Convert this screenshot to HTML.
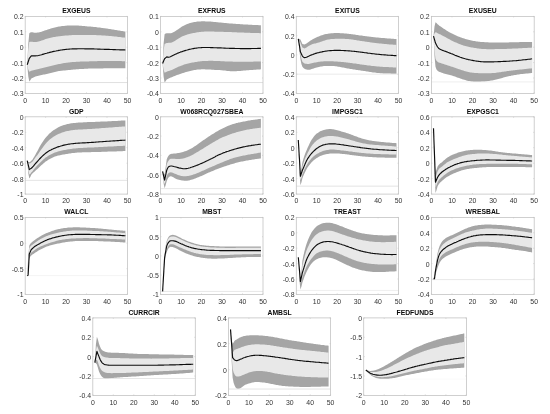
<!DOCTYPE html>
<html lang="en"><head><meta charset="utf-8"><title>Impulse responses</title>
<style>html,body{margin:0;padding:0;background:#fff}body{width:550px;height:414px;overflow:hidden}</style></head>
<body>
<svg width="550" height="414" viewBox="0 0 550 414" style="display:block">
<defs><filter id="soft" x="-5%" y="-5%" width="110%" height="110%"><feGaussianBlur stdDeviation="0.38"/></filter></defs>
<style>text{font-family:"Liberation Sans",Arial,Helvetica,sans-serif}.t{font-weight:bold;font-size:6.8px;fill:#0a0a0a;text-anchor:middle}.y{font-size:6.9px;fill:#333;text-anchor:end}.x{font-size:6.9px;fill:#333;text-anchor:middle}.k{stroke:#c4c4c4;stroke-width:.6}.bx{fill:none;stroke:#c4c4c4;stroke-width:.8}.m{fill:none;stroke:#111;stroke-width:1.15;stroke-linejoin:round}.d{fill:#a5a5a5}.l{fill:#e8e8e8}</style>
<rect width="550" height="414" fill="#fff"/>
<g>
<g filter="url(#soft)">
<polygon class="d" points="27.2,64.8 28.3,43.4 29.3,33.2 30.3,32.4 31.3,32.2 32.4,32.3 33.4,32.5 34.4,32.7 35.4,32.8 36.4,32.8 37.5,32.6 38.5,32.5 39.5,32.3 40.5,32.0 41.6,31.7 42.6,31.3 43.6,31.0 44.6,30.6 45.6,30.2 46.7,29.9 47.7,29.5 48.7,29.2 49.7,28.9 50.8,28.6 51.8,28.3 52.8,28.0 53.8,27.7 54.9,27.5 55.9,27.3 56.9,27.0 57.9,26.8 58.9,26.6 60.0,26.5 61.0,26.3 62.0,26.1 63.0,26.0 64.1,25.9 65.1,25.8 66.1,25.7 67.1,25.6 68.1,25.5 69.2,25.5 70.2,25.4 71.2,25.4 72.2,25.4 73.3,25.4 74.3,25.4 75.3,25.4 76.3,25.5 77.3,25.5 78.4,25.6 79.4,25.7 80.4,25.7 81.4,25.8 82.5,25.9 83.5,26.0 84.5,26.1 85.5,26.2 86.5,26.3 87.6,26.4 88.6,26.5 89.6,26.5 90.6,26.6 91.7,26.7 92.7,26.8 93.7,26.9 94.7,27.0 95.8,27.1 96.8,27.3 97.8,27.4 98.8,27.5 99.8,27.6 100.9,27.8 101.9,27.9 102.9,28.0 103.9,28.2 105.0,28.3 106.0,28.5 107.0,28.6 108.0,28.8 109.0,29.0 110.1,29.1 111.1,29.3 112.1,29.4 113.1,29.6 114.2,29.8 115.2,29.9 116.2,30.1 117.2,30.3 118.2,30.4 119.3,30.6 120.3,30.8 121.3,30.9 122.3,31.1 123.4,31.3 124.4,31.4 125.4,31.6 125.4,68.3 124.4,68.3 123.4,68.3 122.3,68.3 121.3,68.3 120.3,68.3 119.3,68.3 118.2,68.3 117.2,68.3 116.2,68.3 115.2,68.3 114.2,68.3 113.1,68.3 112.1,68.3 111.1,68.3 110.1,68.3 109.0,68.3 108.0,68.3 107.0,68.3 106.0,68.3 105.0,68.3 103.9,68.3 102.9,68.4 101.9,68.4 100.9,68.4 99.8,68.4 98.8,68.4 97.8,68.4 96.8,68.4 95.8,68.5 94.7,68.5 93.7,68.5 92.7,68.5 91.7,68.5 90.6,68.6 89.6,68.6 88.6,68.6 87.6,68.7 86.5,68.7 85.5,68.8 84.5,68.8 83.5,68.9 82.5,68.9 81.4,69.0 80.4,69.0 79.4,69.1 78.4,69.2 77.3,69.2 76.3,69.3 75.3,69.4 74.3,69.5 73.3,69.6 72.2,69.7 71.2,69.8 70.2,69.9 69.2,70.0 68.1,70.1 67.1,70.2 66.1,70.3 65.1,70.4 64.1,70.5 63.0,70.6 62.0,70.7 61.0,70.8 60.0,71.0 58.9,71.1 57.9,71.3 56.9,71.5 55.9,71.7 54.9,71.9 53.8,72.2 52.8,72.4 51.8,72.7 50.8,73.0 49.7,73.2 48.7,73.5 47.7,73.8 46.7,74.0 45.6,74.2 44.6,74.5 43.6,74.6 42.6,74.8 41.6,75.0 40.5,75.2 39.5,75.4 38.5,75.7 37.5,76.0 36.4,76.3 35.4,76.6 34.4,77.0 33.4,77.4 32.4,77.9 31.3,78.6 30.3,80.3 29.3,81.6 28.3,76.5 27.2,64.8"/>
<polygon class="l" points="27.2,64.8 28.3,49.3 29.3,42.1 30.3,41.8 31.3,41.7 32.4,41.7 33.4,41.9 34.4,42.0 35.4,42.1 36.4,42.0 37.5,41.8 38.5,41.6 39.5,41.3 40.5,41.0 41.6,40.6 42.6,40.2 43.6,39.9 44.6,39.5 45.6,39.1 46.7,38.8 47.7,38.5 48.7,38.2 49.7,37.9 50.8,37.7 51.8,37.5 52.8,37.3 53.8,37.1 54.9,36.9 55.9,36.7 56.9,36.6 57.9,36.4 58.9,36.3 60.0,36.2 61.0,36.1 62.0,35.9 63.0,35.8 64.1,35.7 65.1,35.6 66.1,35.6 67.1,35.5 68.1,35.4 69.2,35.3 70.2,35.2 71.2,35.2 72.2,35.1 73.3,35.1 74.3,35.0 75.3,35.0 76.3,35.0 77.3,34.9 78.4,34.9 79.4,34.9 80.4,34.9 81.4,34.9 82.5,34.9 83.5,34.9 84.5,34.9 85.5,34.9 86.5,35.0 87.6,35.0 88.6,35.0 89.6,35.0 90.6,35.0 91.7,35.0 92.7,35.0 93.7,35.1 94.7,35.1 95.8,35.1 96.8,35.2 97.8,35.2 98.8,35.2 99.8,35.3 100.9,35.3 101.9,35.4 102.9,35.5 103.9,35.5 105.0,35.6 106.0,35.7 107.0,35.7 108.0,35.8 109.0,35.9 110.1,36.0 111.1,36.1 112.1,36.2 113.1,36.3 114.2,36.4 115.2,36.5 116.2,36.6 117.2,36.8 118.2,36.9 119.3,37.0 120.3,37.1 121.3,37.2 122.3,37.4 123.4,37.5 124.4,37.6 125.4,37.7 125.4,61.2 124.4,61.2 123.4,61.2 122.3,61.2 121.3,61.1 120.3,61.1 119.3,61.1 118.2,61.1 117.2,61.1 116.2,61.1 115.2,61.1 114.2,61.0 113.1,61.0 112.1,61.0 111.1,61.0 110.1,61.0 109.0,61.0 108.0,61.0 107.0,61.0 106.0,61.0 105.0,61.0 103.9,61.0 102.9,61.1 101.9,61.1 100.9,61.1 99.8,61.1 98.8,61.1 97.8,61.1 96.8,61.2 95.8,61.2 94.7,61.2 93.7,61.2 92.7,61.2 91.7,61.3 90.6,61.3 89.6,61.3 88.6,61.4 87.6,61.4 86.5,61.4 85.5,61.4 84.5,61.5 83.5,61.5 82.5,61.5 81.4,61.6 80.4,61.6 79.4,61.7 78.4,61.7 77.3,61.8 76.3,61.8 75.3,61.9 74.3,61.9 73.3,62.0 72.2,62.1 71.2,62.2 70.2,62.3 69.2,62.4 68.1,62.5 67.1,62.7 66.1,62.8 65.1,62.9 64.1,63.1 63.0,63.3 62.0,63.5 61.0,63.7 60.0,63.9 58.9,64.1 57.9,64.3 56.9,64.5 55.9,64.8 54.9,65.0 53.8,65.3 52.8,65.5 51.8,65.8 50.8,66.0 49.7,66.3 48.7,66.6 47.7,66.8 46.7,67.1 45.6,67.3 44.6,67.6 43.6,67.8 42.6,68.1 41.6,68.3 40.5,68.5 39.5,68.8 38.5,69.0 37.5,69.2 36.4,69.5 35.4,69.7 34.4,69.9 33.4,70.2 32.4,70.4 31.3,70.7 30.3,71.3 29.3,71.7 28.3,69.6 27.2,64.8"/>
</g>
<line x1="25.20" y1="82.54" x2="127.45" y2="82.54" stroke="#d2d2d2" stroke-width="0.7"/>
<rect class="bx" x="25.20" y="16.40" width="102.25" height="77.00"/>
<g filter="url(#soft)"><polyline class="m" points="27.2,64.8 28.3,61.5 29.3,58.3 30.3,57.1 31.3,55.9 32.4,55.9 33.4,55.9 34.4,55.9 35.4,55.9 36.4,55.8 37.5,55.7 38.5,55.5 39.5,55.2 40.5,55.0 41.6,54.7 42.6,54.4 43.6,54.1 44.6,53.8 45.6,53.5 46.7,53.2 47.7,52.9 48.7,52.7 49.7,52.4 50.8,52.1 51.8,51.9 52.8,51.6 53.8,51.4 54.9,51.2 55.9,51.0 56.9,50.7 57.9,50.6 58.9,50.4 60.0,50.2 61.0,50.0 62.0,49.9 63.0,49.7 64.1,49.6 65.1,49.5 66.1,49.4 67.1,49.3 68.1,49.2 69.2,49.1 70.2,49.0 71.2,49.0 72.2,48.9 73.3,48.9 74.3,48.8 75.3,48.8 76.3,48.8 77.3,48.8 78.4,48.7 79.4,48.7 80.4,48.7 81.4,48.7 82.5,48.7 83.5,48.7 84.5,48.8 85.5,48.8 86.5,48.8 87.6,48.8 88.6,48.8 89.6,48.8 90.6,48.9 91.7,48.9 92.7,48.9 93.7,48.9 94.7,49.0 95.8,49.0 96.8,49.0 97.8,49.1 98.8,49.1 99.8,49.1 100.9,49.2 101.9,49.2 102.9,49.2 103.9,49.3 105.0,49.3 106.0,49.3 107.0,49.4 108.0,49.4 109.0,49.4 110.1,49.5 111.1,49.5 112.1,49.5 113.1,49.6 114.2,49.6 115.2,49.6 116.2,49.7 117.2,49.7 118.2,49.7 119.3,49.8 120.3,49.8 121.3,49.8 122.3,49.9 123.4,49.9 124.4,49.9 125.4,50.0"/></g>
<text class="t" x="76.3" y="13.4">EXGEUS</text>
<text class="y" x="23.5" y="19.3">0.2</text>
<path class="k" d="M25.2 16.4h1M127.5 16.4h-1"/>
<text class="y" x="23.5" y="34.8">0.1</text>
<path class="k" d="M25.2 31.8h1M127.5 31.8h-1"/>
<text class="y" x="23.5" y="50.2">0</text>
<path class="k" d="M25.2 47.2h1M127.5 47.2h-1"/>
<text class="y" x="23.5" y="65.5">-0.1</text>
<path class="k" d="M25.2 62.6h1M127.5 62.6h-1"/>
<text class="y" x="23.5" y="81.0">-0.2</text>
<path class="k" d="M25.2 78.0h1M127.5 78.0h-1"/>
<text class="y" x="23.5" y="96.4">-0.3</text>
<path class="k" d="M25.2 93.4h1M127.5 93.4h-1"/>
<text class="x" x="25.2" y="102.5">0</text>
<path class="k" d="M25.2 93.4v-1M25.2 16.4v1"/>
<text class="x" x="45.6" y="102.5">10</text>
<path class="k" d="M45.6 93.4v-1M45.6 16.4v1"/>
<text class="x" x="66.1" y="102.5">20</text>
<path class="k" d="M66.1 93.4v-1M66.1 16.4v1"/>
<text class="x" x="86.5" y="102.5">30</text>
<path class="k" d="M86.5 93.4v-1M86.5 16.4v1"/>
<text class="x" x="107.0" y="102.5">40</text>
<path class="k" d="M107.0 93.4v-1M107.0 16.4v1"/>
<text class="x" x="127.5" y="102.5">50</text>
<path class="k" d="M127.5 93.4v-1M127.5 16.4v1"/>
</g>
<g>
<g filter="url(#soft)">
<polygon class="d" points="162.6,63.4 163.6,43.6 164.6,34.2 165.6,33.4 166.7,33.2 167.7,33.2 168.7,33.2 169.7,33.2 170.8,33.2 171.8,33.0 172.8,32.6 173.8,32.1 174.8,31.5 175.9,30.8 176.9,30.1 177.9,29.4 178.9,28.7 180.0,27.9 181.0,27.3 182.0,26.6 183.1,26.0 184.1,25.5 185.1,25.0 186.1,24.5 187.2,24.1 188.2,23.7 189.2,23.3 190.2,23.0 191.2,22.7 192.3,22.5 193.3,22.2 194.3,22.0 195.3,21.9 196.4,21.7 197.4,21.6 198.4,21.5 199.4,21.4 200.5,21.4 201.5,21.3 202.5,21.3 203.6,21.3 204.6,21.3 205.6,21.4 206.6,21.4 207.7,21.4 208.7,21.5 209.7,21.6 210.7,21.6 211.8,21.7 212.8,21.8 213.8,21.9 214.8,22.0 215.8,22.1 216.9,22.2 217.9,22.3 218.9,22.4 219.9,22.5 221.0,22.6 222.0,22.7 223.0,22.8 224.1,22.9 225.1,23.0 226.1,23.1 227.1,23.2 228.2,23.3 229.2,23.4 230.2,23.4 231.2,23.5 232.2,23.6 233.3,23.7 234.3,23.8 235.3,23.8 236.3,23.9 237.4,24.0 238.4,24.0 239.4,24.1 240.4,24.2 241.5,24.2 242.5,24.3 243.5,24.4 244.6,24.4 245.6,24.5 246.6,24.5 247.6,24.6 248.7,24.7 249.7,24.7 250.7,24.8 251.7,24.8 252.8,24.9 253.8,24.9 254.8,25.0 255.8,25.0 256.9,25.1 257.9,25.1 258.9,25.2 259.9,25.2 260.9,25.3 260.9,69.3 259.9,69.4 258.9,69.4 257.9,69.5 256.9,69.6 255.8,69.7 254.8,69.7 253.8,69.8 252.8,69.9 251.7,69.9 250.7,70.0 249.7,70.1 248.7,70.2 247.6,70.3 246.6,70.3 245.6,70.4 244.6,70.5 243.5,70.6 242.5,70.7 241.5,70.8 240.4,70.9 239.4,71.0 238.4,71.1 237.4,71.1 236.3,71.2 235.3,71.3 234.3,71.3 233.3,71.3 232.2,71.3 231.2,71.2 230.2,71.2 229.2,71.1 228.2,71.0 227.1,70.9 226.1,70.8 225.1,70.6 224.1,70.5 223.0,70.4 222.0,70.3 221.0,70.2 219.9,70.1 218.9,70.1 217.9,70.0 216.9,70.0 215.8,69.9 214.8,69.9 213.8,69.8 212.8,69.8 211.8,69.7 210.7,69.6 209.7,69.6 208.7,69.5 207.7,69.5 206.6,69.4 205.6,69.4 204.6,69.3 203.6,69.3 202.5,69.3 201.5,69.3 200.5,69.4 199.4,69.4 198.4,69.5 197.4,69.6 196.4,69.8 195.3,69.9 194.3,70.1 193.3,70.3 192.3,70.5 191.2,70.7 190.2,70.9 189.2,71.2 188.2,71.5 187.2,71.7 186.1,72.0 185.1,72.3 184.1,72.7 183.1,73.0 182.0,73.3 181.0,73.7 180.0,74.0 178.9,74.4 177.9,74.7 176.9,75.1 175.9,75.5 174.8,75.9 173.8,76.3 172.8,76.7 171.8,77.2 170.8,77.6 169.7,78.0 168.7,78.4 167.7,78.9 166.7,79.6 165.6,81.3 164.6,82.5 163.6,76.7 162.6,63.4"/>
<polygon class="l" points="162.6,63.4 163.6,50.4 164.6,44.0 165.6,43.4 166.7,43.1 167.7,42.9 168.7,42.8 169.7,42.8 170.8,42.7 171.8,42.4 172.8,42.0 173.8,41.5 174.8,40.9 175.9,40.3 176.9,39.6 177.9,39.0 178.9,38.3 180.0,37.7 181.0,37.1 182.0,36.6 183.1,36.1 184.1,35.7 185.1,35.3 186.1,35.0 187.2,34.6 188.2,34.3 189.2,34.1 190.2,33.8 191.2,33.6 192.3,33.3 193.3,33.1 194.3,32.9 195.3,32.7 196.4,32.5 197.4,32.3 198.4,32.2 199.4,32.0 200.5,31.9 201.5,31.8 202.5,31.7 203.6,31.7 204.6,31.6 205.6,31.6 206.6,31.6 207.7,31.6 208.7,31.6 209.7,31.6 210.7,31.6 211.8,31.6 212.8,31.6 213.8,31.6 214.8,31.7 215.8,31.7 216.9,31.7 217.9,31.7 218.9,31.7 219.9,31.7 221.0,31.8 222.0,31.8 223.0,31.8 224.1,31.9 225.1,31.9 226.1,31.9 227.1,32.0 228.2,32.0 229.2,32.0 230.2,32.1 231.2,32.1 232.2,32.2 233.3,32.2 234.3,32.2 235.3,32.3 236.3,32.3 237.4,32.4 238.4,32.4 239.4,32.5 240.4,32.5 241.5,32.5 242.5,32.6 243.5,32.6 244.6,32.7 245.6,32.7 246.6,32.7 247.6,32.8 248.7,32.8 249.7,32.8 250.7,32.9 251.7,32.9 252.8,32.9 253.8,33.0 254.8,33.0 255.8,33.0 256.9,33.1 257.9,33.1 258.9,33.1 259.9,33.2 260.9,33.2 260.9,61.4 259.9,61.4 258.9,61.5 257.9,61.5 256.9,61.5 255.8,61.6 254.8,61.6 253.8,61.6 252.8,61.7 251.7,61.7 250.7,61.7 249.7,61.7 248.7,61.8 247.6,61.8 246.6,61.8 245.6,61.8 244.6,61.8 243.5,61.8 242.5,61.8 241.5,61.8 240.4,61.8 239.4,61.8 238.4,61.8 237.4,61.8 236.3,61.7 235.3,61.7 234.3,61.7 233.3,61.7 232.2,61.6 231.2,61.6 230.2,61.6 229.2,61.5 228.2,61.5 227.1,61.5 226.1,61.4 225.1,61.4 224.1,61.3 223.0,61.3 222.0,61.2 221.0,61.2 219.9,61.1 218.9,61.1 217.9,61.0 216.9,61.0 215.8,60.9 214.8,60.9 213.8,60.9 212.8,60.8 211.8,60.8 210.7,60.8 209.7,60.8 208.7,60.8 207.7,60.9 206.6,60.9 205.6,60.9 204.6,61.0 203.6,61.0 202.5,61.1 201.5,61.2 200.5,61.3 199.4,61.4 198.4,61.6 197.4,61.7 196.4,61.9 195.3,62.0 194.3,62.2 193.3,62.4 192.3,62.6 191.2,62.8 190.2,63.0 189.2,63.2 188.2,63.5 187.2,63.8 186.1,64.0 185.1,64.3 184.1,64.6 183.1,65.0 182.0,65.4 181.0,65.8 180.0,66.2 178.9,66.6 177.9,67.1 176.9,67.6 175.9,68.1 174.8,68.5 173.8,69.0 172.8,69.5 171.8,69.9 170.8,70.3 169.7,70.7 168.7,71.0 167.7,71.3 166.7,71.7 165.6,72.3 164.6,72.7 163.6,69.8 162.6,63.4"/>
</g>
<line x1="160.50" y1="82.54" x2="263.00" y2="82.54" stroke="#d2d2d2" stroke-width="0.7"/>
<rect class="bx" x="160.50" y="16.40" width="102.50" height="77.00"/>
<g filter="url(#soft)"><polyline class="m" points="162.6,63.4 163.6,61.1 164.6,58.8 165.6,57.9 166.7,56.9 167.7,57.1 168.7,57.3 169.7,57.0 170.8,56.5 171.8,56.0 172.8,55.5 173.8,55.0 174.8,54.5 175.9,54.0 176.9,53.6 177.9,53.1 178.9,52.7 180.0,52.3 181.0,51.9 182.0,51.6 183.1,51.2 184.1,50.9 185.1,50.6 186.1,50.3 187.2,50.0 188.2,49.7 189.2,49.4 190.2,49.2 191.2,49.0 192.3,48.8 193.3,48.6 194.3,48.4 195.3,48.2 196.4,48.1 197.4,48.0 198.4,47.8 199.4,47.7 200.5,47.7 201.5,47.6 202.5,47.5 203.6,47.5 204.6,47.5 205.6,47.5 206.6,47.5 207.7,47.5 208.7,47.5 209.7,47.5 210.7,47.6 211.8,47.6 212.8,47.6 213.8,47.7 214.8,47.7 215.8,47.7 216.9,47.8 217.9,47.8 218.9,47.9 219.9,47.9 221.0,47.9 222.0,48.0 223.0,48.0 224.1,48.1 225.1,48.1 226.1,48.2 227.1,48.2 228.2,48.2 229.2,48.3 230.2,48.3 231.2,48.3 232.2,48.4 233.3,48.4 234.3,48.4 235.3,48.5 236.3,48.5 237.4,48.5 238.4,48.5 239.4,48.5 240.4,48.6 241.5,48.6 242.5,48.6 243.5,48.6 244.6,48.6 245.6,48.6 246.6,48.6 247.6,48.6 248.7,48.6 249.7,48.6 250.7,48.6 251.7,48.5 252.8,48.5 253.8,48.5 254.8,48.5 255.8,48.5 256.9,48.5 257.9,48.4 258.9,48.4 259.9,48.4 260.9,48.4"/></g>
<text class="t" x="211.8" y="13.4">EXFRUS</text>
<text class="y" x="158.8" y="19.3">0.1</text>
<path class="k" d="M160.5 16.4h1M263.0 16.4h-1"/>
<text class="y" x="158.8" y="34.8">0</text>
<path class="k" d="M160.5 31.8h1M263.0 31.8h-1"/>
<text class="y" x="158.8" y="50.2">-0.1</text>
<path class="k" d="M160.5 47.2h1M263.0 47.2h-1"/>
<text class="y" x="158.8" y="65.5">-0.2</text>
<path class="k" d="M160.5 62.6h1M263.0 62.6h-1"/>
<text class="y" x="158.8" y="81.0">-0.3</text>
<path class="k" d="M160.5 78.0h1M263.0 78.0h-1"/>
<text class="y" x="158.8" y="96.4">-0.4</text>
<path class="k" d="M160.5 93.4h1M263.0 93.4h-1"/>
<text class="x" x="160.5" y="102.5">0</text>
<path class="k" d="M160.5 93.4v-1M160.5 16.4v1"/>
<text class="x" x="181.0" y="102.5">10</text>
<path class="k" d="M181.0 93.4v-1M181.0 16.4v1"/>
<text class="x" x="201.5" y="102.5">20</text>
<path class="k" d="M201.5 93.4v-1M201.5 16.4v1"/>
<text class="x" x="222.0" y="102.5">30</text>
<path class="k" d="M222.0 93.4v-1M222.0 16.4v1"/>
<text class="x" x="242.5" y="102.5">40</text>
<path class="k" d="M242.5 93.4v-1M242.5 16.4v1"/>
<text class="x" x="263.0" y="102.5">50</text>
<path class="k" d="M263.0 93.4v-1M263.0 16.4v1"/>
</g>
<g>
<g filter="url(#soft)">
<polygon class="d" points="298.3,38.8 299.4,39.0 300.4,39.6 301.4,41.8 302.4,43.9 303.5,44.3 304.5,44.5 305.5,44.1 306.5,43.5 307.5,42.8 308.6,42.0 309.6,41.3 310.6,40.6 311.6,39.9 312.7,39.3 313.7,38.7 314.7,38.2 315.7,37.7 316.7,37.2 317.8,36.8 318.8,36.4 319.8,36.0 320.8,35.6 321.9,35.2 322.9,34.9 323.9,34.6 324.9,34.3 325.9,34.1 327.0,33.9 328.0,33.7 329.0,33.5 330.0,33.4 331.0,33.3 332.1,33.2 333.1,33.2 334.1,33.1 335.1,33.1 336.2,33.1 337.2,33.1 338.2,33.1 339.2,33.1 340.2,33.2 341.3,33.2 342.3,33.3 343.3,33.3 344.3,33.4 345.4,33.5 346.4,33.6 347.4,33.7 348.4,33.8 349.4,33.9 350.5,34.0 351.5,34.2 352.5,34.3 353.5,34.5 354.6,34.6 355.6,34.8 356.6,34.9 357.6,35.1 358.6,35.2 359.7,35.4 360.7,35.5 361.7,35.6 362.7,35.8 363.8,35.9 364.8,36.1 365.8,36.2 366.8,36.3 367.8,36.5 368.9,36.6 369.9,36.7 370.9,36.8 371.9,37.0 372.9,37.1 374.0,37.2 375.0,37.3 376.0,37.4 377.0,37.5 378.1,37.6 379.1,37.7 380.1,37.8 381.1,37.9 382.1,38.0 383.2,38.1 384.2,38.1 385.2,38.2 386.2,38.3 387.3,38.4 388.3,38.4 389.3,38.5 390.3,38.6 391.3,38.7 392.4,38.7 393.4,38.8 394.4,38.9 395.4,38.9 396.5,39.0 396.5,73.8 395.4,73.7 394.4,73.7 393.4,73.7 392.4,73.7 391.3,73.7 390.3,73.6 389.3,73.6 388.3,73.6 387.3,73.6 386.2,73.5 385.2,73.5 384.2,73.4 383.2,73.4 382.1,73.3 381.1,73.2 380.1,73.2 379.1,73.1 378.1,73.0 377.0,72.9 376.0,72.8 375.0,72.6 374.0,72.5 372.9,72.4 371.9,72.2 370.9,72.1 369.9,71.9 368.9,71.8 367.8,71.6 366.8,71.5 365.8,71.3 364.8,71.1 363.8,71.0 362.7,70.8 361.7,70.7 360.7,70.5 359.7,70.3 358.6,70.2 357.6,70.0 356.6,69.9 355.6,69.7 354.6,69.6 353.5,69.4 352.5,69.3 351.5,69.1 350.5,69.0 349.4,68.8 348.4,68.6 347.4,68.5 346.4,68.3 345.4,68.1 344.3,67.8 343.3,67.6 342.3,67.4 341.3,67.2 340.2,67.0 339.2,66.8 338.2,66.7 337.2,66.5 336.2,66.3 335.1,66.2 334.1,66.1 333.1,66.0 332.1,66.0 331.0,65.9 330.0,65.9 329.0,65.9 328.0,65.9 327.0,65.9 325.9,65.9 324.9,66.0 323.9,66.1 322.9,66.2 321.9,66.4 320.8,66.5 319.8,66.7 318.8,66.9 317.8,67.2 316.7,67.5 315.7,67.8 314.7,68.1 313.7,68.5 312.7,68.8 311.6,69.1 310.6,69.4 309.6,69.7 308.6,69.8 307.5,69.8 306.5,69.6 305.5,69.2 304.5,68.8 303.5,67.9 302.4,66.7 301.4,63.9 300.4,59.0 299.4,50.8 298.3,38.8"/>
<polygon class="l" points="298.3,38.8 299.4,40.5 300.4,42.5 301.4,45.3 302.4,47.4 303.5,48.1 304.5,48.4 305.5,48.1 306.5,47.4 307.5,46.8 308.6,46.1 309.6,45.4 310.6,44.9 311.6,44.5 312.7,44.1 313.7,43.8 314.7,43.6 315.7,43.4 316.7,43.1 317.8,42.8 318.8,42.5 319.8,42.2 320.8,41.8 321.9,41.4 322.9,41.1 323.9,40.7 324.9,40.4 325.9,40.0 327.0,39.8 328.0,39.5 329.0,39.4 330.0,39.2 331.0,39.1 332.1,39.0 333.1,38.9 334.1,38.9 335.1,38.8 336.2,38.8 337.2,38.8 338.2,38.8 339.2,38.8 340.2,38.8 341.3,38.8 342.3,38.8 343.3,38.8 344.3,38.8 345.4,38.9 346.4,38.9 347.4,39.0 348.4,39.1 349.4,39.2 350.5,39.3 351.5,39.4 352.5,39.6 353.5,39.7 354.6,39.9 355.6,40.0 356.6,40.2 357.6,40.4 358.6,40.5 359.7,40.7 360.7,40.9 361.7,41.0 362.7,41.2 363.8,41.3 364.8,41.5 365.8,41.7 366.8,41.8 367.8,42.0 368.9,42.1 369.9,42.3 370.9,42.4 371.9,42.5 372.9,42.7 374.0,42.8 375.0,42.9 376.0,43.1 377.0,43.2 378.1,43.3 379.1,43.4 380.1,43.5 381.1,43.6 382.1,43.7 383.2,43.8 384.2,43.9 385.2,44.0 386.2,44.1 387.3,44.2 388.3,44.3 389.3,44.4 390.3,44.4 391.3,44.5 392.4,44.6 393.4,44.7 394.4,44.7 395.4,44.8 396.5,44.9 396.5,67.5 395.4,67.4 394.4,67.4 393.4,67.4 392.4,67.3 391.3,67.3 390.3,67.2 389.3,67.2 388.3,67.1 387.3,67.1 386.2,67.0 385.2,67.0 384.2,66.9 383.2,66.9 382.1,66.8 381.1,66.7 380.1,66.7 379.1,66.6 378.1,66.5 377.0,66.4 376.0,66.3 375.0,66.2 374.0,66.1 372.9,66.0 371.9,65.9 370.9,65.7 369.9,65.6 368.9,65.5 367.8,65.4 366.8,65.2 365.8,65.1 364.8,64.9 363.8,64.8 362.7,64.7 361.7,64.5 360.7,64.4 359.7,64.2 358.6,64.1 357.6,63.9 356.6,63.8 355.6,63.6 354.6,63.5 353.5,63.4 352.5,63.2 351.5,63.1 350.5,62.9 349.4,62.8 348.4,62.7 347.4,62.6 346.4,62.4 345.4,62.3 344.3,62.2 343.3,62.1 342.3,62.0 341.3,61.9 340.2,61.8 339.2,61.7 338.2,61.7 337.2,61.6 336.2,61.5 335.1,61.4 334.1,61.4 333.1,61.3 332.1,61.3 331.0,61.2 330.0,61.2 329.0,61.2 328.0,61.2 327.0,61.2 325.9,61.2 324.9,61.2 323.9,61.3 322.9,61.4 321.9,61.5 320.8,61.6 319.8,61.7 318.8,61.8 317.8,62.0 316.7,62.2 315.7,62.4 314.7,62.6 313.7,62.8 312.7,63.0 311.6,63.3 310.6,63.5 309.6,63.8 308.6,63.9 307.5,63.9 306.5,63.8 305.5,63.7 304.5,63.5 303.5,62.8 302.4,61.8 301.4,58.8 300.4,53.7 299.4,47.2 298.3,38.8"/>
</g>
<line x1="296.30" y1="74.15" x2="398.50" y2="74.15" stroke="#e0e0e0" stroke-width="0.7"/>
<rect class="bx" x="296.30" y="16.40" width="102.20" height="77.00"/>
<g filter="url(#soft)"><polyline class="m" points="298.3,38.8 299.4,45.3 300.4,51.8 301.4,53.9 302.4,56.1 303.5,57.2 304.5,57.6 305.5,57.5 306.5,57.3 307.5,56.8 308.6,56.3 309.6,55.8 310.6,55.3 311.6,54.9 312.7,54.5 313.7,54.1 314.7,53.7 315.7,53.4 316.7,53.1 317.8,52.8 318.8,52.6 319.8,52.3 320.8,52.1 321.9,51.9 322.9,51.6 323.9,51.5 324.9,51.3 325.9,51.1 327.0,51.0 328.0,50.8 329.0,50.7 330.0,50.6 331.0,50.6 332.1,50.5 333.1,50.5 334.1,50.4 335.1,50.4 336.2,50.4 337.2,50.4 338.2,50.4 339.2,50.4 340.2,50.4 341.3,50.5 342.3,50.5 343.3,50.5 344.3,50.6 345.4,50.6 346.4,50.7 347.4,50.8 348.4,50.9 349.4,50.9 350.5,51.0 351.5,51.1 352.5,51.2 353.5,51.3 354.6,51.4 355.6,51.5 356.6,51.6 357.6,51.8 358.6,51.9 359.7,52.0 360.7,52.1 361.7,52.3 362.7,52.4 363.8,52.5 364.8,52.7 365.8,52.8 366.8,52.9 367.8,53.1 368.9,53.2 369.9,53.3 370.9,53.5 371.9,53.6 372.9,53.7 374.0,53.8 375.0,54.0 376.0,54.1 377.0,54.2 378.1,54.3 379.1,54.4 380.1,54.5 381.1,54.6 382.1,54.7 383.2,54.8 384.2,54.9 385.2,54.9 386.2,55.0 387.3,55.1 388.3,55.2 389.3,55.2 390.3,55.3 391.3,55.4 392.4,55.4 393.4,55.5 394.4,55.6 395.4,55.6 396.5,55.7"/></g>
<text class="t" x="347.4" y="13.4">EXITUS</text>
<text class="y" x="294.6" y="19.3">0.4</text>
<path class="k" d="M296.3 16.4h1M398.5 16.4h-1"/>
<text class="y" x="294.6" y="38.6">0.2</text>
<path class="k" d="M296.3 35.6h1M398.5 35.6h-1"/>
<text class="y" x="294.6" y="57.9">0</text>
<path class="k" d="M296.3 54.9h1M398.5 54.9h-1"/>
<text class="y" x="294.6" y="77.1">-0.2</text>
<path class="k" d="M296.3 74.2h1M398.5 74.2h-1"/>
<text class="y" x="294.6" y="96.4">-0.4</text>
<path class="k" d="M296.3 93.4h1M398.5 93.4h-1"/>
<text class="x" x="296.3" y="102.5">0</text>
<path class="k" d="M296.3 93.4v-1M296.3 16.4v1"/>
<text class="x" x="316.7" y="102.5">10</text>
<path class="k" d="M316.7 93.4v-1M316.7 16.4v1"/>
<text class="x" x="337.2" y="102.5">20</text>
<path class="k" d="M337.2 93.4v-1M337.2 16.4v1"/>
<text class="x" x="357.6" y="102.5">30</text>
<path class="k" d="M357.6 93.4v-1M357.6 16.4v1"/>
<text class="x" x="378.1" y="102.5">40</text>
<path class="k" d="M378.1 93.4v-1M378.1 16.4v1"/>
<text class="x" x="398.5" y="102.5">50</text>
<path class="k" d="M398.5 93.4v-1M398.5 16.4v1"/>
</g>
<g>
<g filter="url(#soft)">
<polygon class="d" points="433.5,36.1 434.5,26.5 435.5,22.3 436.5,23.1 437.6,24.3 438.6,25.1 439.6,25.9 440.7,26.6 441.7,27.3 442.7,28.0 443.7,28.7 444.8,29.3 445.8,30.0 446.8,30.7 447.8,31.3 448.9,31.9 449.9,32.5 450.9,33.0 452.0,33.6 453.0,34.1 454.0,34.6 455.0,35.1 456.1,35.5 457.1,36.0 458.1,36.4 459.2,36.8 460.2,37.2 461.2,37.6 462.2,37.9 463.3,38.3 464.3,38.6 465.3,38.9 466.4,39.2 467.4,39.5 468.4,39.8 469.4,40.0 470.5,40.2 471.5,40.5 472.5,40.7 473.5,40.9 474.6,41.1 475.6,41.2 476.6,41.4 477.7,41.5 478.7,41.7 479.7,41.8 480.7,41.9 481.8,42.0 482.8,42.1 483.8,42.1 484.9,42.2 485.9,42.3 486.9,42.3 487.9,42.3 489.0,42.4 490.0,42.4 491.0,42.4 492.1,42.4 493.1,42.5 494.1,42.5 495.1,42.5 496.2,42.5 497.2,42.5 498.2,42.5 499.2,42.5 500.3,42.5 501.3,42.5 502.3,42.5 503.4,42.4 504.4,42.4 505.4,42.4 506.4,42.4 507.5,42.4 508.5,42.4 509.5,42.3 510.6,42.3 511.6,42.3 512.6,42.3 513.6,42.3 514.7,42.2 515.7,42.2 516.7,42.2 517.8,42.2 518.8,42.2 519.8,42.1 520.8,42.1 521.9,42.1 522.9,42.1 523.9,42.0 524.9,42.0 526.0,42.0 527.0,42.0 528.0,42.0 529.1,41.9 530.1,41.9 531.1,41.9 532.1,41.9 532.1,73.1 531.1,73.1 530.1,73.2 529.1,73.3 528.0,73.4 527.0,73.5 526.0,73.6 524.9,73.7 523.9,73.8 522.9,73.9 521.9,74.0 520.8,74.1 519.8,74.3 518.8,74.4 517.8,74.6 516.7,74.7 515.7,74.9 514.7,75.1 513.6,75.2 512.6,75.4 511.6,75.6 510.6,75.9 509.5,76.1 508.5,76.3 507.5,76.6 506.4,76.8 505.4,77.1 504.4,77.3 503.4,77.6 502.3,77.9 501.3,78.2 500.3,78.4 499.2,78.7 498.2,79.0 497.2,79.2 496.2,79.5 495.1,79.7 494.1,80.0 493.1,80.2 492.1,80.4 491.0,80.6 490.0,80.7 489.0,80.9 487.9,81.0 486.9,81.2 485.9,81.3 484.9,81.4 483.8,81.5 482.8,81.6 481.8,81.6 480.7,81.7 479.7,81.7 478.7,81.8 477.7,81.8 476.6,81.8 475.6,81.8 474.6,81.7 473.5,81.7 472.5,81.6 471.5,81.4 470.5,81.3 469.4,81.1 468.4,80.9 467.4,80.7 466.4,80.4 465.3,80.1 464.3,79.8 463.3,79.5 462.2,79.2 461.2,78.8 460.2,78.5 459.2,78.1 458.1,77.7 457.1,77.4 456.1,77.0 455.0,76.6 454.0,76.3 453.0,75.9 452.0,75.6 450.9,75.3 449.9,75.1 448.9,74.8 447.8,74.6 446.8,74.3 445.8,74.0 444.8,73.7 443.7,73.4 442.7,73.1 441.7,72.7 440.7,72.3 439.6,71.9 438.6,71.4 437.6,70.7 436.5,69.4 435.5,66.7 434.5,56.1 433.5,36.1"/>
<polygon class="l" points="433.5,36.1 434.5,33.4 435.5,32.2 436.5,32.6 437.6,33.2 438.6,33.7 439.6,34.2 440.7,34.6 441.7,35.2 442.7,35.7 443.7,36.2 444.8,36.8 445.8,37.3 446.8,37.9 447.8,38.5 448.9,39.0 449.9,39.6 450.9,40.2 452.0,40.7 453.0,41.2 454.0,41.7 455.0,42.2 456.1,42.6 457.1,43.1 458.1,43.5 459.2,43.9 460.2,44.3 461.2,44.7 462.2,45.0 463.3,45.4 464.3,45.7 465.3,46.0 466.4,46.2 467.4,46.5 468.4,46.7 469.4,47.0 470.5,47.2 471.5,47.4 472.5,47.6 473.5,47.8 474.6,48.0 475.6,48.1 476.6,48.3 477.7,48.4 478.7,48.6 479.7,48.7 480.7,48.8 481.8,48.9 482.8,49.0 483.8,49.0 484.9,49.1 485.9,49.1 486.9,49.2 487.9,49.2 489.0,49.2 490.0,49.2 491.0,49.2 492.1,49.2 493.1,49.2 494.1,49.2 495.1,49.1 496.2,49.1 497.2,49.1 498.2,49.1 499.2,49.1 500.3,49.0 501.3,49.0 502.3,49.0 503.4,49.0 504.4,48.9 505.4,48.9 506.4,48.9 507.5,48.8 508.5,48.8 509.5,48.8 510.6,48.7 511.6,48.7 512.6,48.6 513.6,48.6 514.7,48.5 515.7,48.5 516.7,48.4 517.8,48.4 518.8,48.3 519.8,48.3 520.8,48.2 521.9,48.2 522.9,48.1 523.9,48.1 524.9,48.0 526.0,47.9 527.0,47.9 528.0,47.8 529.1,47.8 530.1,47.7 531.1,47.7 532.1,47.6 532.1,68.3 531.1,68.4 530.1,68.5 529.1,68.6 528.0,68.7 527.0,68.8 526.0,68.9 524.9,69.1 523.9,69.2 522.9,69.3 521.9,69.4 520.8,69.5 519.8,69.6 518.8,69.7 517.8,69.8 516.7,69.9 515.7,70.1 514.7,70.2 513.6,70.3 512.6,70.4 511.6,70.6 510.6,70.7 509.5,70.8 508.5,71.0 507.5,71.1 506.4,71.2 505.4,71.4 504.4,71.5 503.4,71.7 502.3,71.8 501.3,72.0 500.3,72.2 499.2,72.3 498.2,72.5 497.2,72.6 496.2,72.7 495.1,72.9 494.1,73.0 493.1,73.1 492.1,73.1 491.0,73.2 490.0,73.2 489.0,73.3 487.9,73.3 486.9,73.3 485.9,73.3 484.9,73.3 483.8,73.3 482.8,73.3 481.8,73.2 480.7,73.2 479.7,73.2 478.7,73.2 477.7,73.1 476.6,73.1 475.6,73.0 474.6,72.9 473.5,72.8 472.5,72.7 471.5,72.5 470.5,72.4 469.4,72.2 468.4,71.9 467.4,71.7 466.4,71.5 465.3,71.2 464.3,70.9 463.3,70.6 462.2,70.3 461.2,70.0 460.2,69.6 459.2,69.3 458.1,68.9 457.1,68.5 456.1,68.2 455.0,67.8 454.0,67.5 453.0,67.1 452.0,66.7 450.9,66.4 449.9,66.1 448.9,65.8 447.8,65.4 446.8,65.1 445.8,64.8 444.8,64.4 443.7,64.1 442.7,63.8 441.7,63.4 440.7,63.1 439.6,62.7 438.6,62.4 437.6,61.8 436.5,60.8 435.5,58.8 434.5,50.9 433.5,36.1"/>
</g>
<line x1="431.40" y1="81.95" x2="534.20" y2="81.95" stroke="#e6e6e6" stroke-width="0.7"/>
<rect class="bx" x="431.40" y="16.40" width="102.80" height="77.00"/>
<g filter="url(#soft)"><polyline class="m" points="433.5,36.1 434.5,39.6 435.5,43.1 436.5,45.0 437.6,47.0 438.6,48.2 439.6,49.0 440.7,49.5 441.7,50.0 442.7,50.4 443.7,50.8 444.8,51.1 445.8,51.5 446.8,51.9 447.8,52.3 448.9,52.7 449.9,53.1 450.9,53.5 452.0,53.9 453.0,54.3 454.0,54.7 455.0,55.2 456.1,55.6 457.1,56.0 458.1,56.4 459.2,56.8 460.2,57.2 461.2,57.5 462.2,57.9 463.3,58.2 464.3,58.5 465.3,58.8 466.4,59.1 467.4,59.3 468.4,59.6 469.4,59.8 470.5,60.0 471.5,60.2 472.5,60.4 473.5,60.6 474.6,60.8 475.6,61.0 476.6,61.1 477.7,61.3 478.7,61.4 479.7,61.5 480.7,61.6 481.8,61.7 482.8,61.8 483.8,61.9 484.9,61.9 485.9,61.9 486.9,61.9 487.9,61.9 489.0,61.9 490.0,61.9 491.0,61.9 492.1,61.8 493.1,61.8 494.1,61.8 495.1,61.7 496.2,61.7 497.2,61.7 498.2,61.6 499.2,61.6 500.3,61.6 501.3,61.5 502.3,61.5 503.4,61.4 504.4,61.4 505.4,61.3 506.4,61.3 507.5,61.2 508.5,61.2 509.5,61.1 510.6,61.0 511.6,61.0 512.6,60.9 513.6,60.8 514.7,60.7 515.7,60.7 516.7,60.6 517.8,60.5 518.8,60.4 519.8,60.3 520.8,60.2 521.9,60.0 522.9,59.9 523.9,59.8 524.9,59.7 526.0,59.6 527.0,59.5 528.0,59.3 529.1,59.2 530.1,59.1 531.1,59.0 532.1,58.8"/></g>
<text class="t" x="482.8" y="13.4">EXUSEU</text>
<text class="y" x="429.7" y="19.3">0.2</text>
<path class="k" d="M431.4 16.4h1M534.2 16.4h-1"/>
<text class="y" x="429.7" y="34.8">0.1</text>
<path class="k" d="M431.4 31.8h1M534.2 31.8h-1"/>
<text class="y" x="429.7" y="50.2">0</text>
<path class="k" d="M431.4 47.2h1M534.2 47.2h-1"/>
<text class="y" x="429.7" y="65.5">-0.1</text>
<path class="k" d="M431.4 62.6h1M534.2 62.6h-1"/>
<text class="y" x="429.7" y="81.0">-0.2</text>
<path class="k" d="M431.4 78.0h1M534.2 78.0h-1"/>
<text class="y" x="429.7" y="96.4">-0.3</text>
<path class="k" d="M431.4 93.4h1M534.2 93.4h-1"/>
<text class="x" x="431.4" y="102.5">0</text>
<path class="k" d="M431.4 93.4v-1M431.4 16.4v1"/>
<text class="x" x="452.0" y="102.5">10</text>
<path class="k" d="M452.0 93.4v-1M452.0 16.4v1"/>
<text class="x" x="472.5" y="102.5">20</text>
<path class="k" d="M472.5 93.4v-1M472.5 16.4v1"/>
<text class="x" x="493.1" y="102.5">30</text>
<path class="k" d="M493.1 93.4v-1M493.1 16.4v1"/>
<text class="x" x="513.6" y="102.5">40</text>
<path class="k" d="M513.6 93.4v-1M513.6 16.4v1"/>
<text class="x" x="534.2" y="102.5">50</text>
<path class="k" d="M534.2 93.4v-1M534.2 16.4v1"/>
</g>
<g>
<g filter="url(#soft)">
<polygon class="d" points="27.2,160.6 28.3,161.8 29.3,162.2 30.3,161.8 31.3,160.8 32.4,159.7 33.4,158.1 34.4,156.4 35.4,154.7 36.4,152.8 37.5,150.9 38.5,149.0 39.5,147.1 40.5,145.3 41.6,143.6 42.6,142.0 43.6,140.4 44.6,139.0 45.6,137.7 46.7,136.5 47.7,135.4 48.7,134.3 49.7,133.3 50.8,132.4 51.8,131.6 52.8,130.8 53.8,130.1 54.9,129.4 55.9,128.8 56.9,128.2 57.9,127.6 58.9,127.1 60.0,126.6 61.0,126.1 62.0,125.7 63.0,125.3 64.1,125.0 65.1,124.7 66.1,124.4 67.1,124.1 68.1,123.9 69.2,123.7 70.2,123.5 71.2,123.3 72.2,123.2 73.3,123.1 74.3,123.0 75.3,122.9 76.3,122.8 77.3,122.7 78.4,122.6 79.4,122.6 80.4,122.5 81.4,122.4 82.5,122.4 83.5,122.3 84.5,122.3 85.5,122.2 86.5,122.2 87.6,122.1 88.6,122.1 89.6,122.1 90.6,122.0 91.7,122.0 92.7,121.9 93.7,121.9 94.7,121.9 95.8,121.8 96.8,121.8 97.8,121.7 98.8,121.7 99.8,121.7 100.9,121.6 101.9,121.6 102.9,121.6 103.9,121.5 105.0,121.5 106.0,121.4 107.0,121.4 108.0,121.3 109.0,121.3 110.1,121.2 111.1,121.2 112.1,121.1 113.1,121.1 114.2,121.0 115.2,121.0 116.2,120.9 117.2,120.9 118.2,120.8 119.3,120.7 120.3,120.7 121.3,120.6 122.3,120.6 123.4,120.5 124.4,120.4 125.4,120.4 125.4,151.1 124.4,151.1 123.4,151.1 122.3,151.2 121.3,151.2 120.3,151.2 119.3,151.3 118.2,151.3 117.2,151.3 116.2,151.4 115.2,151.4 114.2,151.4 113.1,151.5 112.1,151.5 111.1,151.5 110.1,151.6 109.0,151.6 108.0,151.6 107.0,151.7 106.0,151.7 105.0,151.7 103.9,151.8 102.9,151.8 101.9,151.8 100.9,151.9 99.8,151.9 98.8,151.9 97.8,152.0 96.8,152.0 95.8,152.0 94.7,152.1 93.7,152.1 92.7,152.1 91.7,152.1 90.6,152.2 89.6,152.2 88.6,152.2 87.6,152.2 86.5,152.3 85.5,152.3 84.5,152.3 83.5,152.3 82.5,152.3 81.4,152.4 80.4,152.4 79.4,152.5 78.4,152.5 77.3,152.6 76.3,152.7 75.3,152.8 74.3,152.9 73.3,153.0 72.2,153.1 71.2,153.3 70.2,153.4 69.2,153.6 68.1,153.7 67.1,153.9 66.1,154.1 65.1,154.2 64.1,154.4 63.0,154.6 62.0,154.7 61.0,154.9 60.0,155.2 58.9,155.4 57.9,155.6 56.9,155.9 55.9,156.2 54.9,156.6 53.8,157.0 52.8,157.4 51.8,157.9 50.8,158.4 49.7,158.9 48.7,159.5 47.7,160.2 46.7,160.9 45.6,161.6 44.6,162.4 43.6,163.3 42.6,164.2 41.6,165.1 40.5,166.1 39.5,167.0 38.5,167.9 37.5,168.9 36.4,169.8 35.4,170.8 34.4,171.7 33.4,172.6 32.4,173.6 31.3,174.8 30.3,177.0 29.3,178.6 28.3,173.2 27.2,160.6"/>
<polygon class="l" points="27.2,160.6 28.3,162.7 29.3,163.6 30.3,163.3 31.3,162.6 32.4,161.7 33.4,160.5 34.4,159.0 35.4,157.6 36.4,156.3 37.5,154.9 38.5,153.5 39.5,152.1 40.5,150.6 41.6,149.1 42.6,147.7 43.6,146.3 44.6,145.0 45.6,143.7 46.7,142.5 47.7,141.4 48.7,140.4 49.7,139.5 50.8,138.7 51.8,137.9 52.8,137.2 53.8,136.5 54.9,135.9 55.9,135.3 56.9,134.8 57.9,134.3 58.9,133.8 60.0,133.4 61.0,133.0 62.0,132.6 63.0,132.2 64.1,131.9 65.1,131.6 66.1,131.3 67.1,131.1 68.1,130.9 69.2,130.7 70.2,130.5 71.2,130.3 72.2,130.2 73.3,130.1 74.3,129.9 75.3,129.8 76.3,129.7 77.3,129.7 78.4,129.6 79.4,129.5 80.4,129.5 81.4,129.4 82.5,129.4 83.5,129.3 84.5,129.3 85.5,129.2 86.5,129.2 87.6,129.1 88.6,129.0 89.6,129.0 90.6,128.9 91.7,128.9 92.7,128.8 93.7,128.7 94.7,128.7 95.8,128.6 96.8,128.5 97.8,128.4 98.8,128.4 99.8,128.3 100.9,128.2 101.9,128.1 102.9,128.1 103.9,128.0 105.0,127.9 106.0,127.8 107.0,127.8 108.0,127.7 109.0,127.6 110.1,127.5 111.1,127.4 112.1,127.4 113.1,127.3 114.2,127.2 115.2,127.1 116.2,127.1 117.2,127.0 118.2,126.9 119.3,126.8 120.3,126.7 121.3,126.7 122.3,126.6 123.4,126.5 124.4,126.4 125.4,126.4 125.4,145.7 124.4,145.7 123.4,145.8 122.3,145.9 121.3,145.9 120.3,146.0 119.3,146.0 118.2,146.1 117.2,146.1 116.2,146.2 115.2,146.2 114.2,146.3 113.1,146.4 112.1,146.4 111.1,146.5 110.1,146.5 109.0,146.6 108.0,146.6 107.0,146.7 106.0,146.7 105.0,146.8 103.9,146.8 102.9,146.9 101.9,146.9 100.9,147.0 99.8,147.1 98.8,147.1 97.8,147.2 96.8,147.2 95.8,147.3 94.7,147.3 93.7,147.4 92.7,147.4 91.7,147.4 90.6,147.5 89.6,147.5 88.6,147.6 87.6,147.6 86.5,147.7 85.5,147.7 84.5,147.8 83.5,147.8 82.5,147.9 81.4,147.9 80.4,148.0 79.4,148.0 78.4,148.1 77.3,148.2 76.3,148.3 75.3,148.4 74.3,148.5 73.3,148.6 72.2,148.7 71.2,148.9 70.2,149.0 69.2,149.2 68.1,149.3 67.1,149.5 66.1,149.7 65.1,149.9 64.1,150.1 63.0,150.3 62.0,150.5 61.0,150.8 60.0,151.0 58.9,151.3 57.9,151.6 56.9,151.9 55.9,152.3 54.9,152.6 53.8,153.0 52.8,153.5 51.8,153.9 50.8,154.4 49.7,155.0 48.7,155.5 47.7,156.2 46.7,156.9 45.6,157.6 44.6,158.5 43.6,159.3 42.6,160.2 41.6,161.2 40.5,162.2 39.5,163.2 38.5,164.3 37.5,165.3 36.4,166.5 35.4,167.6 34.4,168.8 33.4,170.1 32.4,171.4 31.3,172.6 30.3,173.9 29.3,174.6 28.3,170.3 27.2,160.6"/>
</g>
<line x1="25.20" y1="180.35" x2="127.45" y2="180.35" stroke="#d8d8d8" stroke-width="0.7"/>
<rect class="bx" x="25.20" y="116.80" width="102.25" height="77.30"/>
<g filter="url(#soft)"><polyline class="m" points="27.2,160.6 28.3,165.1 29.3,169.6 30.3,168.9 31.3,168.2 32.4,167.2 33.4,166.1 34.4,164.8 35.4,163.6 36.4,162.5 37.5,161.3 38.5,160.2 39.5,159.0 40.5,158.0 41.6,156.9 42.6,155.9 43.6,155.0 44.6,154.1 45.6,153.3 46.7,152.5 47.7,151.8 48.7,151.1 49.7,150.5 50.8,150.0 51.8,149.4 52.8,149.0 53.8,148.5 54.9,148.1 55.9,147.7 56.9,147.3 57.9,146.9 58.9,146.6 60.0,146.3 61.0,146.0 62.0,145.7 63.0,145.4 64.1,145.1 65.1,144.9 66.1,144.7 67.1,144.5 68.1,144.3 69.2,144.1 70.2,144.0 71.2,143.8 72.2,143.7 73.3,143.6 74.3,143.5 75.3,143.4 76.3,143.3 77.3,143.2 78.4,143.1 79.4,143.1 80.4,143.0 81.4,143.0 82.5,142.9 83.5,142.9 84.5,142.8 85.5,142.8 86.5,142.7 87.6,142.6 88.6,142.6 89.6,142.5 90.6,142.5 91.7,142.4 92.7,142.3 93.7,142.3 94.7,142.2 95.8,142.1 96.8,142.0 97.8,142.0 98.8,141.9 99.8,141.8 100.9,141.7 101.9,141.7 102.9,141.6 103.9,141.5 105.0,141.5 106.0,141.4 107.0,141.3 108.0,141.2 109.0,141.2 110.1,141.1 111.1,141.0 112.1,141.0 113.1,140.9 114.2,140.8 115.2,140.8 116.2,140.7 117.2,140.6 118.2,140.6 119.3,140.5 120.3,140.4 121.3,140.4 122.3,140.3 123.4,140.2 124.4,140.2 125.4,140.1"/></g>
<text class="t" x="76.3" y="113.8">GDP</text>
<text class="y" x="23.5" y="119.8">0</text>
<path class="k" d="M25.2 116.8h1M127.5 116.8h-1"/>
<text class="y" x="23.5" y="135.2">-0.2</text>
<path class="k" d="M25.2 132.3h1M127.5 132.3h-1"/>
<text class="y" x="23.5" y="150.7">-0.4</text>
<path class="k" d="M25.2 147.7h1M127.5 147.7h-1"/>
<text class="y" x="23.5" y="166.1">-0.6</text>
<path class="k" d="M25.2 163.2h1M127.5 163.2h-1"/>
<text class="y" x="23.5" y="181.6">-0.8</text>
<path class="k" d="M25.2 178.6h1M127.5 178.6h-1"/>
<text class="y" x="23.5" y="197.0">-1</text>
<path class="k" d="M25.2 194.1h1M127.5 194.1h-1"/>
<text class="x" x="25.2" y="203.2">0</text>
<path class="k" d="M25.2 194.1v-1M25.2 116.8v1"/>
<text class="x" x="45.6" y="203.2">10</text>
<path class="k" d="M45.6 194.1v-1M45.6 116.8v1"/>
<text class="x" x="66.1" y="203.2">20</text>
<path class="k" d="M66.1 194.1v-1M66.1 116.8v1"/>
<text class="x" x="86.5" y="203.2">30</text>
<path class="k" d="M86.5 194.1v-1M86.5 116.8v1"/>
<text class="x" x="107.0" y="203.2">40</text>
<path class="k" d="M107.0 194.1v-1M107.0 116.8v1"/>
<text class="x" x="127.5" y="203.2">50</text>
<path class="k" d="M127.5 194.1v-1M127.5 116.8v1"/>
</g>
<g>
<g filter="url(#soft)">
<polygon class="d" points="162.6,171.3 163.6,173.9 164.6,174.3 165.6,167.6 166.7,159.4 167.7,156.9 168.7,155.4 169.7,154.6 170.8,154.1 171.8,153.8 172.8,153.7 173.8,153.6 174.8,153.5 175.9,153.4 176.9,153.2 177.9,153.1 178.9,152.9 180.0,152.7 181.0,152.5 182.0,152.2 183.1,151.9 184.1,151.6 185.1,151.3 186.1,150.9 187.2,150.5 188.2,150.1 189.2,149.6 190.2,149.1 191.2,148.5 192.3,147.9 193.3,147.3 194.3,146.6 195.3,145.9 196.4,145.2 197.4,144.5 198.4,143.8 199.4,143.1 200.5,142.3 201.5,141.6 202.5,140.8 203.6,140.1 204.6,139.4 205.6,138.7 206.6,138.0 207.7,137.3 208.7,136.6 209.7,136.0 210.7,135.3 211.8,134.6 212.8,134.0 213.8,133.4 214.8,132.7 215.8,132.1 216.9,131.5 217.9,130.9 218.9,130.3 219.9,129.8 221.0,129.2 222.0,128.7 223.0,128.2 224.1,127.7 225.1,127.2 226.1,126.7 227.1,126.3 228.2,125.8 229.2,125.4 230.2,125.1 231.2,124.7 232.2,124.3 233.3,124.0 234.3,123.7 235.3,123.4 236.3,123.1 237.4,122.9 238.4,122.6 239.4,122.4 240.4,122.2 241.5,122.0 242.5,121.8 243.5,121.6 244.6,121.4 245.6,121.2 246.6,121.0 247.6,120.8 248.7,120.6 249.7,120.5 250.7,120.3 251.7,120.1 252.8,120.0 253.8,119.8 254.8,119.7 255.8,119.5 256.9,119.4 257.9,119.2 258.9,119.1 259.9,118.9 260.9,118.8 260.9,158.4 259.9,158.6 258.9,158.7 257.9,158.8 256.9,159.0 255.8,159.1 254.8,159.3 253.8,159.4 252.8,159.6 251.7,159.7 250.7,159.9 249.7,160.1 248.7,160.2 247.6,160.4 246.6,160.6 245.6,160.8 244.6,161.0 243.5,161.2 242.5,161.4 241.5,161.6 240.4,161.8 239.4,162.1 238.4,162.3 237.4,162.6 236.3,162.8 235.3,163.1 234.3,163.4 233.3,163.7 232.2,164.0 231.2,164.3 230.2,164.6 229.2,164.9 228.2,165.2 227.1,165.6 226.1,165.9 225.1,166.3 224.1,166.6 223.0,167.0 222.0,167.3 221.0,167.7 219.9,168.1 218.9,168.5 217.9,168.8 216.9,169.2 215.8,169.6 214.8,170.0 213.8,170.5 212.8,170.9 211.8,171.3 210.7,171.7 209.7,172.2 208.7,172.6 207.7,173.1 206.6,173.6 205.6,174.0 204.6,174.5 203.6,174.9 202.5,175.4 201.5,175.9 200.5,176.3 199.4,176.8 198.4,177.2 197.4,177.6 196.4,178.0 195.3,178.4 194.3,178.8 193.3,179.2 192.3,179.5 191.2,179.8 190.2,180.1 189.2,180.4 188.2,180.6 187.2,180.7 186.1,180.8 185.1,180.8 184.1,180.7 183.1,180.6 182.0,180.4 181.0,180.2 180.0,180.0 178.9,179.8 177.9,179.5 176.9,179.2 175.9,178.8 174.8,178.2 173.8,177.6 172.8,177.0 171.8,176.5 170.8,176.3 169.7,176.5 168.7,177.3 167.7,178.8 166.7,181.2 165.6,185.3 164.6,188.2 163.6,183.3 162.6,171.3"/>
<polygon class="l" points="162.6,171.3 163.6,176.2 164.6,177.3 165.6,171.6 166.7,164.4 167.7,161.9 168.7,160.4 169.7,159.3 170.8,158.8 171.8,158.7 172.8,158.7 173.8,158.7 174.8,158.8 175.9,158.9 176.9,159.0 177.9,159.0 178.9,159.0 180.0,158.9 181.0,158.8 182.0,158.7 183.1,158.5 184.1,158.2 185.1,157.9 186.1,157.6 187.2,157.2 188.2,156.8 189.2,156.4 190.2,155.9 191.2,155.4 192.3,154.9 193.3,154.4 194.3,153.8 195.3,153.2 196.4,152.6 197.4,152.0 198.4,151.4 199.4,150.8 200.5,150.1 201.5,149.5 202.5,148.9 203.6,148.2 204.6,147.6 205.6,146.9 206.6,146.3 207.7,145.7 208.7,145.0 209.7,144.4 210.7,143.8 211.8,143.2 212.8,142.6 213.8,142.0 214.8,141.4 215.8,140.8 216.9,140.2 217.9,139.7 218.9,139.1 219.9,138.6 221.0,138.1 222.0,137.6 223.0,137.1 224.1,136.7 225.1,136.3 226.1,135.9 227.1,135.5 228.2,135.1 229.2,134.7 230.2,134.3 231.2,134.0 232.2,133.6 233.3,133.3 234.3,133.0 235.3,132.7 236.3,132.3 237.4,132.0 238.4,131.7 239.4,131.5 240.4,131.2 241.5,130.9 242.5,130.7 243.5,130.4 244.6,130.2 245.6,130.0 246.6,129.8 247.6,129.6 248.7,129.4 249.7,129.2 250.7,129.1 251.7,128.9 252.8,128.8 253.8,128.6 254.8,128.5 255.8,128.3 256.9,128.2 257.9,128.1 258.9,128.0 259.9,127.8 260.9,127.7 260.9,152.5 259.9,152.7 258.9,152.8 257.9,153.0 256.9,153.2 255.8,153.4 254.8,153.5 253.8,153.7 252.8,153.9 251.7,154.1 250.7,154.3 249.7,154.5 248.7,154.6 247.6,154.8 246.6,155.0 245.6,155.2 244.6,155.4 243.5,155.6 242.5,155.8 241.5,156.1 240.4,156.3 239.4,156.5 238.4,156.7 237.4,157.0 236.3,157.2 235.3,157.5 234.3,157.8 233.3,158.1 232.2,158.4 231.2,158.8 230.2,159.1 229.2,159.5 228.2,159.9 227.1,160.3 226.1,160.7 225.1,161.1 224.1,161.5 223.0,162.0 222.0,162.4 221.0,162.8 219.9,163.2 218.9,163.7 217.9,164.1 216.9,164.5 215.8,165.0 214.8,165.4 213.8,165.9 212.8,166.3 211.8,166.7 210.7,167.2 209.7,167.6 208.7,168.1 207.7,168.6 206.6,169.0 205.6,169.5 204.6,169.9 203.6,170.4 202.5,170.8 201.5,171.3 200.5,171.8 199.4,172.2 198.4,172.7 197.4,173.1 196.4,173.5 195.3,173.9 194.3,174.3 193.3,174.6 192.3,175.0 191.2,175.3 190.2,175.5 189.2,175.8 188.2,176.0 187.2,176.1 186.1,176.2 185.1,176.3 184.1,176.3 183.1,176.2 182.0,176.1 181.0,175.9 180.0,175.6 178.9,175.3 177.9,174.9 176.9,174.5 175.9,174.1 174.8,173.7 173.8,173.2 172.8,172.8 171.8,172.5 170.8,172.3 169.7,172.4 168.7,172.9 167.7,174.1 166.7,176.3 165.6,180.8 164.6,184.2 163.6,180.7 162.6,171.3"/>
</g>
<line x1="160.50" y1="188.55" x2="263.00" y2="188.55" stroke="#dedede" stroke-width="0.7"/>
<rect class="bx" x="160.50" y="116.80" width="102.50" height="77.30"/>
<g filter="url(#soft)"><polyline class="m" points="162.6,171.3 163.6,175.8 164.6,180.2 165.6,175.3 166.7,170.3 167.7,168.0 168.7,166.7 169.7,166.2 170.8,166.0 171.8,166.0 172.8,166.2 173.8,166.5 174.8,166.7 175.9,167.0 176.9,167.3 177.9,167.6 178.9,167.9 180.0,168.1 181.0,168.3 182.0,168.5 183.1,168.7 184.1,168.7 185.1,168.7 186.1,168.6 187.2,168.5 188.2,168.3 189.2,168.0 190.2,167.7 191.2,167.3 192.3,167.0 193.3,166.6 194.3,166.3 195.3,165.9 196.4,165.5 197.4,165.1 198.4,164.7 199.4,164.3 200.5,163.8 201.5,163.4 202.5,162.9 203.6,162.5 204.6,162.0 205.6,161.5 206.6,161.0 207.7,160.5 208.7,160.0 209.7,159.5 210.7,158.9 211.8,158.4 212.8,157.9 213.8,157.4 214.8,156.9 215.8,156.3 216.9,155.8 217.9,155.3 218.9,154.8 219.9,154.4 221.0,153.9 222.0,153.5 223.0,153.0 224.1,152.6 225.1,152.3 226.1,151.9 227.1,151.5 228.2,151.2 229.2,150.9 230.2,150.5 231.2,150.2 232.2,149.9 233.3,149.6 234.3,149.3 235.3,149.0 236.3,148.7 237.4,148.4 238.4,148.1 239.4,147.9 240.4,147.6 241.5,147.4 242.5,147.1 243.5,146.9 244.6,146.7 245.6,146.5 246.6,146.3 247.6,146.1 248.7,145.9 249.7,145.7 250.7,145.6 251.7,145.4 252.8,145.3 253.8,145.1 254.8,145.0 255.8,144.8 256.9,144.7 257.9,144.5 258.9,144.4 259.9,144.3 260.9,144.2"/></g>
<text class="t" x="211.8" y="113.8">W068RCQ027SBEA</text>
<text class="y" x="158.8" y="119.8">0</text>
<path class="k" d="M160.5 116.8h1M263.0 116.8h-1"/>
<text class="y" x="158.8" y="139.1">-0.2</text>
<path class="k" d="M160.5 136.1h1M263.0 136.1h-1"/>
<text class="y" x="158.8" y="158.4">-0.4</text>
<path class="k" d="M160.5 155.4h1M263.0 155.4h-1"/>
<text class="y" x="158.8" y="177.7">-0.6</text>
<path class="k" d="M160.5 174.8h1M263.0 174.8h-1"/>
<text class="y" x="158.8" y="197.0">-0.8</text>
<path class="k" d="M160.5 194.1h1M263.0 194.1h-1"/>
<text class="x" x="160.5" y="203.2">0</text>
<path class="k" d="M160.5 194.1v-1M160.5 116.8v1"/>
<text class="x" x="181.0" y="203.2">10</text>
<path class="k" d="M181.0 194.1v-1M181.0 116.8v1"/>
<text class="x" x="201.5" y="203.2">20</text>
<path class="k" d="M201.5 194.1v-1M201.5 116.8v1"/>
<text class="x" x="222.0" y="203.2">30</text>
<path class="k" d="M222.0 194.1v-1M222.0 116.8v1"/>
<text class="x" x="242.5" y="203.2">40</text>
<path class="k" d="M242.5 194.1v-1M242.5 116.8v1"/>
<text class="x" x="263.0" y="203.2">50</text>
<path class="k" d="M263.0 194.1v-1M263.0 116.8v1"/>
</g>
<g>
<g filter="url(#soft)">
<polygon class="d" points="298.3,140.0 299.4,162.8 300.4,172.3 301.4,168.4 302.4,162.4 303.5,158.6 304.5,155.4 305.5,152.8 306.5,150.5 307.5,148.1 308.6,145.8 309.6,143.6 310.6,141.6 311.6,139.8 312.7,138.2 313.7,136.8 314.7,135.6 315.7,134.5 316.7,133.6 317.8,132.9 318.8,132.2 319.8,131.6 320.8,131.1 321.9,130.7 322.9,130.3 323.9,130.0 324.9,129.7 325.9,129.5 327.0,129.3 328.0,129.2 329.0,129.1 330.0,129.1 331.0,129.1 332.1,129.2 333.1,129.3 334.1,129.5 335.1,129.8 336.2,130.0 337.2,130.3 338.2,130.5 339.2,130.8 340.2,131.1 341.3,131.4 342.3,131.7 343.3,132.0 344.3,132.3 345.4,132.6 346.4,132.9 347.4,133.3 348.4,133.6 349.4,134.0 350.5,134.3 351.5,134.7 352.5,135.1 353.5,135.5 354.6,135.9 355.6,136.3 356.6,136.6 357.6,137.0 358.6,137.4 359.7,137.7 360.7,138.1 361.7,138.4 362.7,138.7 363.8,139.0 364.8,139.2 365.8,139.5 366.8,139.8 367.8,140.0 368.9,140.2 369.9,140.4 370.9,140.6 371.9,140.8 372.9,140.9 374.0,141.1 375.0,141.2 376.0,141.3 377.0,141.5 378.1,141.6 379.1,141.7 380.1,141.8 381.1,141.9 382.1,142.0 383.2,142.1 384.2,142.2 385.2,142.3 386.2,142.4 387.3,142.5 388.3,142.5 389.3,142.6 390.3,142.7 391.3,142.8 392.4,142.9 393.4,142.9 394.4,143.0 395.4,143.1 396.5,143.2 396.5,157.8 395.4,157.8 394.4,157.8 393.4,157.8 392.4,157.8 391.3,157.8 390.3,157.8 389.3,157.7 388.3,157.7 387.3,157.7 386.2,157.7 385.2,157.7 384.2,157.6 383.2,157.6 382.1,157.6 381.1,157.5 380.1,157.5 379.1,157.5 378.1,157.4 377.0,157.4 376.0,157.3 375.0,157.3 374.0,157.2 372.9,157.2 371.9,157.1 370.9,157.1 369.9,157.0 368.9,156.9 367.8,156.8 366.8,156.8 365.8,156.7 364.8,156.6 363.8,156.5 362.7,156.4 361.7,156.3 360.7,156.2 359.7,156.1 358.6,156.0 357.6,155.8 356.6,155.7 355.6,155.6 354.6,155.4 353.5,155.3 352.5,155.2 351.5,155.0 350.5,154.9 349.4,154.7 348.4,154.6 347.4,154.5 346.4,154.3 345.4,154.2 344.3,154.1 343.3,154.0 342.3,153.9 341.3,153.8 340.2,153.7 339.2,153.6 338.2,153.5 337.2,153.5 336.2,153.4 335.1,153.4 334.1,153.4 333.1,153.4 332.1,153.4 331.0,153.5 330.0,153.6 329.0,153.7 328.0,153.9 327.0,154.1 325.9,154.3 324.9,154.5 323.9,154.7 322.9,155.1 321.9,155.4 320.8,155.8 319.8,156.3 318.8,156.8 317.8,157.4 316.7,158.0 315.7,158.7 314.7,159.5 313.7,160.3 312.7,161.2 311.6,162.2 310.6,163.4 309.6,164.7 308.6,166.1 307.5,167.6 306.5,169.3 305.5,171.2 304.5,173.3 303.5,175.6 302.4,178.2 301.4,182.4 300.4,185.2 299.4,171.5 298.3,140.0"/>
<polygon class="l" points="298.3,140.0 299.4,164.1 300.4,174.3 301.4,171.2 302.4,166.4 303.5,163.0 304.5,160.0 305.5,157.6 306.5,155.4 307.5,153.3 308.6,151.2 309.6,149.3 310.6,147.5 311.6,145.9 312.7,144.6 313.7,143.4 314.7,142.3 315.7,141.4 316.7,140.6 317.8,139.8 318.8,139.2 319.8,138.6 320.8,138.1 321.9,137.6 322.9,137.2 323.9,136.9 324.9,136.6 325.9,136.4 327.0,136.2 328.0,136.1 329.0,136.0 330.0,136.0 331.0,136.0 332.1,136.1 333.1,136.1 334.1,136.2 335.1,136.3 336.2,136.5 337.2,136.6 338.2,136.8 339.2,137.0 340.2,137.2 341.3,137.4 342.3,137.7 343.3,137.9 344.3,138.2 345.4,138.4 346.4,138.7 347.4,139.0 348.4,139.3 349.4,139.6 350.5,139.9 351.5,140.2 352.5,140.5 353.5,140.8 354.6,141.1 355.6,141.4 356.6,141.7 357.6,142.0 358.6,142.2 359.7,142.5 360.7,142.8 361.7,143.0 362.7,143.2 363.8,143.4 364.8,143.6 365.8,143.8 366.8,144.0 367.8,144.2 368.9,144.3 369.9,144.4 370.9,144.5 371.9,144.6 372.9,144.7 374.0,144.8 375.0,144.9 376.0,145.0 377.0,145.1 378.1,145.1 379.1,145.2 380.1,145.3 381.1,145.4 382.1,145.4 383.2,145.5 384.2,145.6 385.2,145.7 386.2,145.8 387.3,145.8 388.3,145.9 389.3,146.0 390.3,146.1 391.3,146.1 392.4,146.2 393.4,146.3 394.4,146.4 395.4,146.5 396.5,146.5 396.5,154.5 395.4,154.4 394.4,154.4 393.4,154.4 392.4,154.4 391.3,154.4 390.3,154.4 389.3,154.4 388.3,154.3 387.3,154.3 386.2,154.3 385.2,154.3 384.2,154.3 383.2,154.2 382.1,154.2 381.1,154.2 380.1,154.1 379.1,154.1 378.1,154.1 377.0,154.0 376.0,154.0 375.0,153.9 374.0,153.9 372.9,153.8 371.9,153.7 370.9,153.7 369.9,153.6 368.9,153.5 367.8,153.5 366.8,153.4 365.8,153.3 364.8,153.2 363.8,153.1 362.7,153.0 361.7,152.9 360.7,152.8 359.7,152.7 358.6,152.6 357.6,152.5 356.6,152.3 355.6,152.2 354.6,152.1 353.5,151.9 352.5,151.8 351.5,151.6 350.5,151.5 349.4,151.4 348.4,151.2 347.4,151.1 346.4,151.0 345.4,150.8 344.3,150.7 343.3,150.6 342.3,150.5 341.3,150.4 340.2,150.3 339.2,150.1 338.2,150.0 337.2,149.9 336.2,149.8 335.1,149.7 334.1,149.6 333.1,149.5 332.1,149.5 331.0,149.5 330.0,149.6 329.0,149.7 328.0,149.9 327.0,150.1 325.9,150.3 324.9,150.5 323.9,150.8 322.9,151.1 321.9,151.4 320.8,151.9 319.8,152.3 318.8,152.9 317.8,153.4 316.7,154.1 315.7,154.7 314.7,155.5 313.7,156.3 312.7,157.2 311.6,158.3 310.6,159.4 309.6,160.7 308.6,162.1 307.5,163.7 306.5,165.4 305.5,167.2 304.5,169.3 303.5,171.7 302.4,174.3 301.4,177.9 300.4,180.2 299.4,168.0 298.3,140.0"/>
</g>
<line x1="296.30" y1="186.17" x2="398.50" y2="186.17" stroke="#d8d8d8" stroke-width="0.7"/>
<rect class="bx" x="296.30" y="116.80" width="102.20" height="77.30"/>
<g filter="url(#soft)"><polyline class="m" points="298.3,140.0 299.4,158.1 300.4,176.3 301.4,173.3 302.4,170.3 303.5,167.8 304.5,165.4 305.5,163.0 306.5,160.8 307.5,158.9 308.6,157.3 309.6,155.8 310.6,154.5 311.6,153.3 312.7,152.1 313.7,151.1 314.7,150.2 315.7,149.3 316.7,148.5 317.8,147.8 318.8,147.1 319.8,146.5 320.8,146.0 321.9,145.5 322.9,145.1 323.9,144.8 324.9,144.6 325.9,144.3 327.0,144.2 328.0,144.0 329.0,143.9 330.0,143.8 331.0,143.8 332.1,143.8 333.1,143.8 334.1,143.8 335.1,143.9 336.2,144.0 337.2,144.2 338.2,144.3 339.2,144.4 340.2,144.5 341.3,144.7 342.3,144.8 343.3,144.9 344.3,145.1 345.4,145.2 346.4,145.4 347.4,145.5 348.4,145.7 349.4,145.9 350.5,146.0 351.5,146.2 352.5,146.3 353.5,146.5 354.6,146.7 355.6,146.8 356.6,147.0 357.6,147.1 358.6,147.3 359.7,147.4 360.7,147.6 361.7,147.7 362.7,147.9 363.8,148.0 364.8,148.1 365.8,148.3 366.8,148.4 367.8,148.5 368.9,148.6 369.9,148.7 370.9,148.9 371.9,149.0 372.9,149.1 374.0,149.2 375.0,149.2 376.0,149.3 377.0,149.4 378.1,149.5 379.1,149.6 380.1,149.7 381.1,149.7 382.1,149.8 383.2,149.9 384.2,149.9 385.2,150.0 386.2,150.0 387.3,150.1 388.3,150.1 389.3,150.2 390.3,150.2 391.3,150.3 392.4,150.3 393.4,150.4 394.4,150.4 395.4,150.5 396.5,150.5"/></g>
<text class="t" x="347.4" y="113.8">IMPGSC1</text>
<text class="y" x="294.6" y="119.8">0.4</text>
<path class="k" d="M296.3 116.8h1M398.5 116.8h-1"/>
<text class="y" x="294.6" y="135.2">0.2</text>
<path class="k" d="M296.3 132.3h1M398.5 132.3h-1"/>
<text class="y" x="294.6" y="150.7">0</text>
<path class="k" d="M296.3 147.7h1M398.5 147.7h-1"/>
<text class="y" x="294.6" y="166.1">-0.2</text>
<path class="k" d="M296.3 163.2h1M398.5 163.2h-1"/>
<text class="y" x="294.6" y="181.6">-0.4</text>
<path class="k" d="M296.3 178.6h1M398.5 178.6h-1"/>
<text class="y" x="294.6" y="197.0">-0.6</text>
<path class="k" d="M296.3 194.1h1M398.5 194.1h-1"/>
<text class="x" x="296.3" y="203.2">0</text>
<path class="k" d="M296.3 194.1v-1M296.3 116.8v1"/>
<text class="x" x="316.7" y="203.2">10</text>
<path class="k" d="M316.7 194.1v-1M316.7 116.8v1"/>
<text class="x" x="337.2" y="203.2">20</text>
<path class="k" d="M337.2 194.1v-1M337.2 116.8v1"/>
<text class="x" x="357.6" y="203.2">30</text>
<path class="k" d="M357.6 194.1v-1M357.6 116.8v1"/>
<text class="x" x="378.1" y="203.2">40</text>
<path class="k" d="M378.1 194.1v-1M378.1 116.8v1"/>
<text class="x" x="398.5" y="203.2">50</text>
<path class="k" d="M398.5 194.1v-1M398.5 116.8v1"/>
</g>
<g>
<g filter="url(#soft)">
<polygon class="d" points="433.5,128.3 434.5,158.9 435.5,172.3 436.5,169.7 437.6,166.4 438.6,165.0 439.6,164.0 440.7,163.1 441.7,162.4 442.7,161.5 443.7,160.6 444.8,159.7 445.8,158.8 446.8,158.0 447.8,157.3 448.9,156.7 449.9,156.1 450.9,155.5 452.0,155.1 453.0,154.6 454.0,154.2 455.0,153.7 456.1,153.4 457.1,153.0 458.1,152.6 459.2,152.3 460.2,152.0 461.2,151.7 462.2,151.5 463.3,151.2 464.3,151.0 465.3,150.8 466.4,150.6 467.4,150.5 468.4,150.3 469.4,150.2 470.5,150.1 471.5,150.0 472.5,149.9 473.5,149.8 474.6,149.8 475.6,149.8 476.6,149.7 477.7,149.7 478.7,149.8 479.7,149.8 480.7,149.8 481.8,149.8 482.8,149.9 483.8,150.0 484.9,150.0 485.9,150.1 486.9,150.2 487.9,150.3 489.0,150.4 490.0,150.5 491.0,150.6 492.1,150.8 493.1,150.9 494.1,151.0 495.1,151.2 496.2,151.4 497.2,151.5 498.2,151.7 499.2,151.9 500.3,152.0 501.3,152.2 502.3,152.3 503.4,152.5 504.4,152.6 505.4,152.7 506.4,152.8 507.5,152.9 508.5,153.0 509.5,153.1 510.6,153.2 511.6,153.3 512.6,153.4 513.6,153.5 514.7,153.6 515.7,153.6 516.7,153.7 517.8,153.8 518.8,153.9 519.8,154.0 520.8,154.1 521.9,154.2 522.9,154.2 523.9,154.3 524.9,154.4 526.0,154.5 527.0,154.6 528.0,154.7 529.1,154.8 530.1,154.9 531.1,155.0 532.1,155.1 532.1,167.3 531.1,167.3 530.1,167.3 529.1,167.3 528.0,167.2 527.0,167.2 526.0,167.2 524.9,167.1 523.9,167.1 522.9,167.1 521.9,167.1 520.8,167.0 519.8,167.0 518.8,167.0 517.8,167.0 516.7,167.0 515.7,167.0 514.7,167.0 513.6,166.9 512.6,166.9 511.6,166.9 510.6,166.9 509.5,166.9 508.5,166.9 507.5,166.9 506.4,166.9 505.4,166.9 504.4,166.9 503.4,166.9 502.3,166.9 501.3,166.9 500.3,166.9 499.2,166.9 498.2,166.9 497.2,166.9 496.2,166.9 495.1,166.9 494.1,166.9 493.1,166.9 492.1,167.0 491.0,167.0 490.0,167.0 489.0,167.0 487.9,167.1 486.9,167.1 485.9,167.2 484.9,167.2 483.8,167.3 482.8,167.3 481.8,167.4 480.7,167.5 479.7,167.6 478.7,167.7 477.7,167.8 476.6,167.9 475.6,168.0 474.6,168.1 473.5,168.2 472.5,168.3 471.5,168.5 470.5,168.6 469.4,168.8 468.4,168.9 467.4,169.1 466.4,169.3 465.3,169.5 464.3,169.8 463.3,170.0 462.2,170.3 461.2,170.6 460.2,170.9 459.2,171.3 458.1,171.7 457.1,172.0 456.1,172.5 455.0,172.9 454.0,173.3 453.0,173.8 452.0,174.3 450.9,174.8 449.9,175.3 448.9,175.9 447.8,176.5 446.8,177.1 445.8,177.8 444.8,178.6 443.7,179.5 442.7,180.3 441.7,181.2 440.7,182.1 439.6,183.2 438.6,184.5 437.6,186.2 436.5,190.2 435.5,193.1 434.5,173.3 433.5,128.3"/>
<polygon class="l" points="433.5,128.3 434.5,162.3 435.5,177.3 436.5,174.8 437.6,171.3 438.6,169.6 439.6,168.3 440.7,167.5 441.7,166.7 442.7,165.9 443.7,165.1 444.8,164.2 445.8,163.4 446.8,162.6 447.8,162.0 448.9,161.4 449.9,160.9 450.9,160.5 452.0,160.0 453.0,159.6 454.0,159.1 455.0,158.7 456.1,158.3 457.1,157.9 458.1,157.5 459.2,157.1 460.2,156.7 461.2,156.4 462.2,156.0 463.3,155.8 464.3,155.5 465.3,155.2 466.4,155.0 467.4,154.8 468.4,154.6 469.4,154.5 470.5,154.3 471.5,154.2 472.5,154.1 473.5,154.0 474.6,153.9 475.6,153.8 476.6,153.7 477.7,153.6 478.7,153.6 479.7,153.5 480.7,153.5 481.8,153.5 482.8,153.5 483.8,153.5 484.9,153.5 485.9,153.5 486.9,153.5 487.9,153.6 489.0,153.6 490.0,153.7 491.0,153.7 492.1,153.8 493.1,153.9 494.1,153.9 495.1,154.0 496.2,154.1 497.2,154.2 498.2,154.3 499.2,154.4 500.3,154.5 501.3,154.6 502.3,154.7 503.4,154.9 504.4,155.0 505.4,155.1 506.4,155.2 507.5,155.3 508.5,155.4 509.5,155.5 510.6,155.6 511.6,155.7 512.6,155.8 513.6,155.8 514.7,155.9 515.7,156.0 516.7,156.1 517.8,156.2 518.8,156.3 519.8,156.4 520.8,156.5 521.9,156.6 522.9,156.7 523.9,156.7 524.9,156.8 526.0,156.9 527.0,157.0 528.0,157.1 529.1,157.2 530.1,157.3 531.1,157.3 532.1,157.4 532.1,164.4 531.1,164.3 530.1,164.3 529.1,164.2 528.0,164.2 527.0,164.2 526.0,164.1 524.9,164.1 523.9,164.0 522.9,164.0 521.9,164.0 520.8,163.9 519.8,163.9 518.8,163.9 517.8,163.8 516.7,163.8 515.7,163.8 514.7,163.8 513.6,163.8 512.6,163.8 511.6,163.8 510.6,163.8 509.5,163.8 508.5,163.8 507.5,163.8 506.4,163.8 505.4,163.8 504.4,163.8 503.4,163.8 502.3,163.8 501.3,163.8 500.3,163.8 499.2,163.8 498.2,163.8 497.2,163.8 496.2,163.8 495.1,163.8 494.1,163.8 493.1,163.8 492.1,163.8 491.0,163.8 490.0,163.8 489.0,163.8 487.9,163.8 486.9,163.8 485.9,163.9 484.9,163.9 483.8,163.9 482.8,164.0 481.8,164.0 480.7,164.1 479.7,164.1 478.7,164.2 477.7,164.3 476.6,164.3 475.6,164.4 474.6,164.5 473.5,164.6 472.5,164.8 471.5,164.9 470.5,165.1 469.4,165.2 468.4,165.4 467.4,165.6 466.4,165.8 465.3,166.0 464.3,166.2 463.3,166.5 462.2,166.7 461.2,167.0 460.2,167.3 459.2,167.6 458.1,167.9 457.1,168.3 456.1,168.6 455.0,169.0 454.0,169.4 453.0,169.9 452.0,170.3 450.9,170.8 449.9,171.3 448.9,171.9 447.8,172.5 446.8,173.2 445.8,173.9 444.8,174.7 443.7,175.5 442.7,176.4 441.7,177.3 440.7,178.2 439.6,179.2 438.6,180.6 437.6,182.2 436.5,185.1 435.5,187.2 434.5,169.1 433.5,128.3"/>
</g>
<rect class="bx" x="431.40" y="116.80" width="102.80" height="77.30"/>
<g filter="url(#soft)"><polyline class="m" points="433.5,128.3 434.5,155.3 435.5,182.2 436.5,179.7 437.6,177.3 438.6,175.6 439.6,174.3 440.7,173.2 441.7,172.3 442.7,171.5 443.7,170.7 444.8,170.0 445.8,169.3 446.8,168.7 447.8,168.1 448.9,167.5 449.9,167.0 450.9,166.4 452.0,166.0 453.0,165.5 454.0,165.1 455.0,164.6 456.1,164.2 457.1,163.9 458.1,163.5 459.2,163.2 460.2,162.9 461.2,162.6 462.2,162.4 463.3,162.2 464.3,161.9 465.3,161.8 466.4,161.6 467.4,161.4 468.4,161.3 469.4,161.2 470.5,161.0 471.5,160.9 472.5,160.8 473.5,160.7 474.6,160.6 475.6,160.5 476.6,160.4 477.7,160.3 478.7,160.2 479.7,160.2 480.7,160.1 481.8,160.1 482.8,160.0 483.8,160.0 484.9,160.0 485.9,159.9 486.9,159.9 487.9,159.9 489.0,159.9 490.0,160.0 491.0,160.0 492.1,160.0 493.1,160.0 494.1,160.0 495.1,160.0 496.2,160.1 497.2,160.1 498.2,160.1 499.2,160.1 500.3,160.1 501.3,160.2 502.3,160.2 503.4,160.2 504.4,160.2 505.4,160.2 506.4,160.3 507.5,160.3 508.5,160.3 509.5,160.3 510.6,160.3 511.6,160.4 512.6,160.4 513.6,160.4 514.7,160.4 515.7,160.5 516.7,160.5 517.8,160.5 518.8,160.5 519.8,160.6 520.8,160.6 521.9,160.6 522.9,160.7 523.9,160.7 524.9,160.7 526.0,160.8 527.0,160.8 528.0,160.9 529.1,160.9 530.1,160.9 531.1,161.0 532.1,161.0"/></g>
<text class="t" x="482.8" y="113.8">EXPGSC1</text>
<text class="y" x="429.7" y="119.8">0.6</text>
<path class="k" d="M431.4 116.8h1M534.2 116.8h-1"/>
<text class="y" x="429.7" y="135.2">0.4</text>
<path class="k" d="M431.4 132.3h1M534.2 132.3h-1"/>
<text class="y" x="429.7" y="150.7">0.2</text>
<path class="k" d="M431.4 147.7h1M534.2 147.7h-1"/>
<text class="y" x="429.7" y="166.1">0</text>
<path class="k" d="M431.4 163.2h1M534.2 163.2h-1"/>
<text class="y" x="429.7" y="181.6">-0.2</text>
<path class="k" d="M431.4 178.6h1M534.2 178.6h-1"/>
<text class="y" x="429.7" y="197.0">-0.4</text>
<path class="k" d="M431.4 194.1h1M534.2 194.1h-1"/>
<text class="x" x="431.4" y="203.2">0</text>
<path class="k" d="M431.4 194.1v-1M431.4 116.8v1"/>
<text class="x" x="452.0" y="203.2">10</text>
<path class="k" d="M452.0 194.1v-1M452.0 116.8v1"/>
<text class="x" x="472.5" y="203.2">20</text>
<path class="k" d="M472.5 194.1v-1M472.5 116.8v1"/>
<text class="x" x="493.1" y="203.2">30</text>
<path class="k" d="M493.1 194.1v-1M493.1 116.8v1"/>
<text class="x" x="513.6" y="203.2">40</text>
<path class="k" d="M513.6 194.1v-1M513.6 116.8v1"/>
<text class="x" x="534.2" y="203.2">50</text>
<path class="k" d="M534.2 194.1v-1M534.2 116.8v1"/>
</g>
<g>
<g filter="url(#soft)">
<polygon class="d" points="27.2,275.6 28.3,255.7 29.3,245.4 30.3,243.7 31.3,242.7 32.4,241.8 33.4,241.1 34.4,240.3 35.4,239.5 36.4,238.8 37.5,238.1 38.5,237.4 39.5,236.7 40.5,236.2 41.6,235.6 42.6,235.1 43.6,234.5 44.6,234.1 45.6,233.6 46.7,233.1 47.7,232.7 48.7,232.3 49.7,231.9 50.8,231.5 51.8,231.1 52.8,230.8 53.8,230.4 54.9,230.1 55.9,229.8 56.9,229.6 57.9,229.3 58.9,229.1 60.0,228.9 61.0,228.6 62.0,228.5 63.0,228.3 64.1,228.1 65.1,228.0 66.1,227.9 67.1,227.7 68.1,227.6 69.2,227.6 70.2,227.5 71.2,227.4 72.2,227.4 73.3,227.3 74.3,227.3 75.3,227.3 76.3,227.3 77.3,227.3 78.4,227.3 79.4,227.3 80.4,227.4 81.4,227.4 82.5,227.5 83.5,227.5 84.5,227.6 85.5,227.6 86.5,227.7 87.6,227.7 88.6,227.8 89.6,227.8 90.6,227.9 91.7,227.9 92.7,228.0 93.7,228.0 94.7,228.1 95.8,228.2 96.8,228.3 97.8,228.3 98.8,228.4 99.8,228.5 100.9,228.6 101.9,228.7 102.9,228.8 103.9,228.9 105.0,229.0 106.0,229.1 107.0,229.2 108.0,229.3 109.0,229.4 110.1,229.5 111.1,229.6 112.1,229.7 113.1,229.8 114.2,229.9 115.2,230.0 116.2,230.1 117.2,230.2 118.2,230.3 119.3,230.3 120.3,230.4 121.3,230.5 122.3,230.6 123.4,230.7 124.4,230.7 125.4,230.8 125.4,242.5 124.4,242.4 123.4,242.4 122.3,242.3 121.3,242.2 120.3,242.2 119.3,242.1 118.2,242.1 117.2,242.0 116.2,242.0 115.2,241.9 114.2,241.8 113.1,241.8 112.1,241.7 111.1,241.7 110.1,241.6 109.0,241.6 108.0,241.5 107.0,241.5 106.0,241.4 105.0,241.4 103.9,241.4 102.9,241.3 101.9,241.3 100.9,241.2 99.8,241.2 98.8,241.2 97.8,241.1 96.8,241.1 95.8,241.1 94.7,241.0 93.7,241.0 92.7,241.0 91.7,241.0 90.6,240.9 89.6,240.9 88.6,240.9 87.6,240.9 86.5,240.9 85.5,240.9 84.5,240.9 83.5,240.9 82.5,240.9 81.4,240.9 80.4,240.9 79.4,241.0 78.4,241.0 77.3,241.0 76.3,241.1 75.3,241.1 74.3,241.2 73.3,241.3 72.2,241.4 71.2,241.5 70.2,241.6 69.2,241.7 68.1,241.8 67.1,241.9 66.1,242.1 65.1,242.2 64.1,242.4 63.0,242.6 62.0,242.8 61.0,243.0 60.0,243.2 58.9,243.4 57.9,243.6 56.9,243.8 55.9,244.1 54.9,244.3 53.8,244.5 52.8,244.8 51.8,245.0 50.8,245.3 49.7,245.6 48.7,245.9 47.7,246.3 46.7,246.6 45.6,247.0 44.6,247.4 43.6,247.9 42.6,248.4 41.6,248.9 40.5,249.4 39.5,250.0 38.5,250.6 37.5,251.2 36.4,251.9 35.4,252.5 34.4,253.2 33.4,253.9 32.4,254.6 31.3,255.5 30.3,256.6 29.3,258.5 28.3,264.7 27.2,275.6"/>
<polygon class="l" points="27.2,275.6 28.3,257.6 29.3,248.2 30.3,246.4 31.3,245.4 32.4,244.7 33.4,244.1 34.4,243.3 35.4,242.5 36.4,241.7 37.5,241.0 38.5,240.3 39.5,239.7 40.5,239.1 41.6,238.5 42.6,238.0 43.6,237.5 44.6,237.0 45.6,236.6 46.7,236.1 47.7,235.7 48.7,235.3 49.7,235.0 50.8,234.6 51.8,234.3 52.8,234.0 53.8,233.7 54.9,233.5 55.9,233.2 56.9,232.9 57.9,232.7 58.9,232.5 60.0,232.3 61.0,232.1 62.0,231.9 63.0,231.7 64.1,231.5 65.1,231.4 66.1,231.2 67.1,231.1 68.1,231.0 69.2,230.9 70.2,230.8 71.2,230.7 72.2,230.6 73.3,230.5 74.3,230.5 75.3,230.5 76.3,230.4 77.3,230.4 78.4,230.4 79.4,230.4 80.4,230.4 81.4,230.5 82.5,230.5 83.5,230.5 84.5,230.6 85.5,230.6 86.5,230.6 87.6,230.7 88.6,230.7 89.6,230.7 90.6,230.8 91.7,230.8 92.7,230.9 93.7,230.9 94.7,230.9 95.8,231.0 96.8,231.0 97.8,231.1 98.8,231.1 99.8,231.2 100.9,231.2 101.9,231.3 102.9,231.3 103.9,231.4 105.0,231.5 106.0,231.5 107.0,231.6 108.0,231.7 109.0,231.8 110.1,231.8 111.1,231.9 112.1,232.0 113.1,232.1 114.2,232.2 115.2,232.3 116.2,232.4 117.2,232.4 118.2,232.5 119.3,232.6 120.3,232.7 121.3,232.8 122.3,232.9 123.4,233.0 124.4,233.1 125.4,233.2 125.4,239.5 124.4,239.5 123.4,239.4 122.3,239.4 121.3,239.3 120.3,239.3 119.3,239.2 118.2,239.2 117.2,239.2 116.2,239.1 115.2,239.1 114.2,239.0 113.1,239.0 112.1,238.9 111.1,238.9 110.1,238.9 109.0,238.8 108.0,238.8 107.0,238.7 106.0,238.7 105.0,238.6 103.9,238.6 102.9,238.6 101.9,238.5 100.9,238.5 99.8,238.4 98.8,238.4 97.8,238.4 96.8,238.3 95.8,238.3 94.7,238.3 93.7,238.2 92.7,238.2 91.7,238.2 90.6,238.2 89.6,238.2 88.6,238.1 87.6,238.1 86.5,238.1 85.5,238.1 84.5,238.1 83.5,238.1 82.5,238.2 81.4,238.2 80.4,238.2 79.4,238.2 78.4,238.3 77.3,238.3 76.3,238.3 75.3,238.4 74.3,238.4 73.3,238.5 72.2,238.5 71.2,238.6 70.2,238.7 69.2,238.8 68.1,238.9 67.1,239.0 66.1,239.1 65.1,239.3 64.1,239.4 63.0,239.6 62.0,239.7 61.0,239.9 60.0,240.1 58.9,240.3 57.9,240.6 56.9,240.8 55.9,241.1 54.9,241.4 53.8,241.7 52.8,242.0 51.8,242.3 50.8,242.6 49.7,243.0 48.7,243.3 47.7,243.7 46.7,244.1 45.6,244.4 44.6,244.8 43.6,245.2 42.6,245.7 41.6,246.1 40.5,246.5 39.5,247.0 38.5,247.5 37.5,248.1 36.4,248.7 35.4,249.4 34.4,250.2 33.4,251.0 32.4,251.7 31.3,252.5 30.3,253.9 29.3,256.3 28.3,263.4 27.2,275.6"/>
</g>
<line x1="25.20" y1="275.64" x2="127.45" y2="275.64" stroke="#eeeeee" stroke-width="0.7"/>
<rect class="bx" x="25.20" y="217.40" width="102.25" height="77.00"/>
<g filter="url(#soft)"><polyline class="m" points="27.2,275.6 28.1,275.2 28.3,271.7 29.3,253.9 30.3,251.8 31.3,249.6 32.4,248.5 33.4,247.6 34.4,246.8 35.4,246.0 36.4,245.4 37.5,244.8 38.5,244.2 39.5,243.7 40.5,243.1 41.6,242.6 42.6,242.0 43.6,241.5 44.6,241.0 45.6,240.5 46.7,240.1 47.7,239.6 48.7,239.2 49.7,238.9 50.8,238.6 51.8,238.2 52.8,237.9 53.8,237.7 54.9,237.4 55.9,237.1 56.9,236.9 57.9,236.7 58.9,236.4 60.0,236.2 61.0,236.0 62.0,235.8 63.0,235.6 64.1,235.5 65.1,235.3 66.1,235.2 67.1,235.0 68.1,234.9 69.2,234.8 70.2,234.7 71.2,234.6 72.2,234.6 73.3,234.5 74.3,234.5 75.3,234.4 76.3,234.4 77.3,234.4 78.4,234.3 79.4,234.3 80.4,234.3 81.4,234.3 82.5,234.3 83.5,234.3 84.5,234.3 85.5,234.4 86.5,234.4 87.6,234.4 88.6,234.4 89.6,234.4 90.6,234.5 91.7,234.5 92.7,234.5 93.7,234.5 94.7,234.5 95.8,234.6 96.8,234.6 97.8,234.6 98.8,234.6 99.8,234.6 100.9,234.6 101.9,234.7 102.9,234.7 103.9,234.7 105.0,234.7 106.0,234.7 107.0,234.8 108.0,234.8 109.0,234.8 110.1,234.9 111.1,234.9 112.1,235.0 113.1,235.0 114.2,235.1 115.2,235.1 116.2,235.2 117.2,235.2 118.2,235.3 119.3,235.4 120.3,235.4 121.3,235.5 122.3,235.6 123.4,235.6 124.4,235.7 125.4,235.8"/></g>
<text class="t" x="76.3" y="214.4">WALCL</text>
<text class="y" x="23.5" y="220.3">0.5</text>
<path class="k" d="M25.2 217.4h1M127.5 217.4h-1"/>
<text class="y" x="23.5" y="246.0">0</text>
<path class="k" d="M25.2 243.1h1M127.5 243.1h-1"/>
<text class="y" x="23.5" y="271.7">-0.5</text>
<path class="k" d="M25.2 268.7h1M127.5 268.7h-1"/>
<text class="y" x="23.5" y="297.3">-1</text>
<path class="k" d="M25.2 294.4h1M127.5 294.4h-1"/>
<text class="x" x="25.2" y="303.5">0</text>
<path class="k" d="M25.2 294.4v-1M25.2 217.4v1"/>
<text class="x" x="45.6" y="303.5">10</text>
<path class="k" d="M45.6 294.4v-1M45.6 217.4v1"/>
<text class="x" x="66.1" y="303.5">20</text>
<path class="k" d="M66.1 294.4v-1M66.1 217.4v1"/>
<text class="x" x="86.5" y="303.5">30</text>
<path class="k" d="M86.5 294.4v-1M86.5 217.4v1"/>
<text class="x" x="107.0" y="303.5">40</text>
<path class="k" d="M107.0 294.4v-1M107.0 217.4v1"/>
<text class="x" x="127.5" y="303.5">50</text>
<path class="k" d="M127.5 294.4v-1M127.5 217.4v1"/>
</g>
<g>
<g filter="url(#soft)">
<polygon class="d" points="162.6,291.4 163.6,269.7 164.6,254.9 165.6,246.3 166.7,241.1 167.7,238.4 168.7,236.7 169.7,235.7 170.8,235.2 171.8,234.9 172.8,234.8 173.8,234.9 174.8,235.2 175.9,235.5 176.9,236.0 177.9,236.5 178.9,237.0 180.0,237.6 181.0,238.1 182.0,238.7 183.1,239.2 184.1,239.6 185.1,240.1 186.1,240.5 187.2,241.0 188.2,241.4 189.2,241.8 190.2,242.1 191.2,242.5 192.3,242.8 193.3,243.1 194.3,243.4 195.3,243.7 196.4,244.0 197.4,244.2 198.4,244.5 199.4,244.7 200.5,244.9 201.5,245.0 202.5,245.2 203.6,245.3 204.6,245.5 205.6,245.6 206.6,245.7 207.7,245.8 208.7,245.8 209.7,245.9 210.7,246.0 211.8,246.0 212.8,246.1 213.8,246.1 214.8,246.2 215.8,246.2 216.9,246.3 217.9,246.3 218.9,246.3 219.9,246.4 221.0,246.4 222.0,246.4 223.0,246.4 224.1,246.5 225.1,246.5 226.1,246.5 227.1,246.5 228.2,246.5 229.2,246.5 230.2,246.5 231.2,246.5 232.2,246.5 233.3,246.5 234.3,246.5 235.3,246.5 236.3,246.5 237.4,246.5 238.4,246.5 239.4,246.4 240.4,246.4 241.5,246.4 242.5,246.4 243.5,246.4 244.6,246.4 245.6,246.4 246.6,246.4 247.6,246.4 248.7,246.4 249.7,246.4 250.7,246.4 251.7,246.4 252.8,246.4 253.8,246.4 254.8,246.4 255.8,246.4 256.9,246.4 257.9,246.4 258.9,246.4 259.9,246.4 260.9,246.4 260.9,256.9 259.9,256.9 258.9,256.9 257.9,256.9 256.9,256.9 255.8,256.9 254.8,257.0 253.8,257.0 252.8,257.0 251.7,257.0 250.7,257.0 249.7,257.0 248.7,257.1 247.6,257.1 246.6,257.1 245.6,257.2 244.6,257.2 243.5,257.2 242.5,257.3 241.5,257.3 240.4,257.4 239.4,257.4 238.4,257.5 237.4,257.6 236.3,257.6 235.3,257.7 234.3,257.7 233.3,257.8 232.2,257.9 231.2,257.9 230.2,258.0 229.2,258.1 228.2,258.1 227.1,258.2 226.1,258.2 225.1,258.3 224.1,258.4 223.0,258.4 222.0,258.5 221.0,258.5 219.9,258.6 218.9,258.6 217.9,258.6 216.9,258.7 215.8,258.7 214.8,258.7 213.8,258.7 212.8,258.7 211.8,258.7 210.7,258.6 209.7,258.6 208.7,258.5 207.7,258.4 206.6,258.3 205.6,258.2 204.6,258.1 203.6,258.0 202.5,257.8 201.5,257.7 200.5,257.5 199.4,257.3 198.4,257.1 197.4,256.9 196.4,256.7 195.3,256.5 194.3,256.2 193.3,255.9 192.3,255.6 191.2,255.3 190.2,255.0 189.2,254.6 188.2,254.2 187.2,253.8 186.1,253.4 185.1,252.9 184.1,252.5 183.1,252.0 182.0,251.5 181.0,251.0 180.0,250.4 178.9,249.9 177.9,249.3 176.9,248.8 175.9,248.3 174.8,247.8 173.8,247.4 172.8,247.0 171.8,246.9 170.8,246.8 169.7,247.2 168.7,248.0 167.7,249.7 166.7,252.3 165.6,255.8 164.6,261.2 163.6,272.9 162.6,291.4"/>
<polygon class="l" points="162.6,291.4 163.6,270.2 164.6,255.9 165.6,247.7 166.7,242.7 167.7,240.0 168.7,238.3 169.7,237.3 170.8,236.7 171.8,236.5 172.8,236.4 173.8,236.5 174.8,236.7 175.9,237.1 176.9,237.5 177.9,238.0 178.9,238.5 180.0,239.0 181.0,239.5 182.0,240.0 183.1,240.5 184.1,241.0 185.1,241.4 186.1,241.9 187.2,242.3 188.2,242.7 189.2,243.1 190.2,243.5 191.2,243.9 192.3,244.2 193.3,244.5 194.3,244.8 195.3,245.1 196.4,245.4 197.4,245.6 198.4,245.8 199.4,246.1 200.5,246.2 201.5,246.4 202.5,246.6 203.6,246.7 204.6,246.8 205.6,247.0 206.6,247.1 207.7,247.1 208.7,247.2 209.7,247.3 210.7,247.4 211.8,247.4 212.8,247.5 213.8,247.5 214.8,247.6 215.8,247.6 216.9,247.7 217.9,247.7 218.9,247.7 219.9,247.8 221.0,247.8 222.0,247.8 223.0,247.8 224.1,247.8 225.1,247.9 226.1,247.9 227.1,247.9 228.2,247.9 229.2,247.9 230.2,247.9 231.2,247.9 232.2,247.9 233.3,247.9 234.3,247.9 235.3,247.9 236.3,247.8 237.4,247.8 238.4,247.8 239.4,247.8 240.4,247.8 241.5,247.8 242.5,247.8 243.5,247.8 244.6,247.8 245.6,247.8 246.6,247.8 247.6,247.8 248.7,247.8 249.7,247.8 250.7,247.8 251.7,247.8 252.8,247.8 253.8,247.8 254.8,247.8 255.8,247.8 256.9,247.8 257.9,247.8 258.9,247.8 259.9,247.8 260.9,247.8 260.9,254.1 259.9,254.1 258.9,254.1 257.9,254.1 256.9,254.1 255.8,254.1 254.8,254.1 253.8,254.1 252.8,254.2 251.7,254.2 250.7,254.2 249.7,254.2 248.7,254.2 247.6,254.2 246.6,254.2 245.6,254.2 244.6,254.3 243.5,254.3 242.5,254.3 241.5,254.4 240.4,254.4 239.4,254.4 238.4,254.5 237.4,254.5 236.3,254.5 235.3,254.6 234.3,254.6 233.3,254.7 232.2,254.7 231.2,254.8 230.2,254.8 229.2,254.9 228.2,254.9 227.1,254.9 226.1,255.0 225.1,255.0 224.1,255.1 223.0,255.1 222.0,255.1 221.0,255.1 219.9,255.2 218.9,255.2 217.9,255.2 216.9,255.2 215.8,255.2 214.8,255.2 213.8,255.2 212.8,255.1 211.8,255.1 210.7,255.1 209.7,255.0 208.7,255.0 207.7,254.9 206.6,254.9 205.6,254.8 204.6,254.7 203.6,254.6 202.5,254.5 201.5,254.3 200.5,254.2 199.4,254.0 198.4,253.8 197.4,253.6 196.4,253.4 195.3,253.1 194.3,252.9 193.3,252.6 192.3,252.3 191.2,252.0 190.2,251.6 189.2,251.2 188.2,250.8 187.2,250.4 186.1,250.0 185.1,249.6 184.1,249.2 183.1,248.7 182.0,248.3 181.0,247.8 180.0,247.4 178.9,246.9 177.9,246.4 176.9,246.0 175.9,245.5 174.8,245.0 173.8,244.6 172.8,244.3 171.8,244.2 170.8,244.3 169.7,244.6 168.7,245.4 167.7,246.9 166.7,249.4 165.6,253.4 164.6,259.8 163.6,272.3 162.6,291.4"/>
</g>
<line x1="160.50" y1="291.44" x2="263.00" y2="291.44" stroke="#dedede" stroke-width="0.7"/>
<rect class="bx" x="160.50" y="217.40" width="102.50" height="77.00"/>
<g filter="url(#soft)"><polyline class="m" points="162.6,291.4 163.6,274.7 164.6,257.9 165.6,252.0 166.7,246.0 167.7,243.6 168.7,242.1 169.7,241.1 170.8,240.7 171.8,240.7 172.8,240.7 173.8,240.9 174.8,241.1 175.9,241.4 176.9,241.8 177.9,242.2 178.9,242.7 180.0,243.2 181.0,243.7 182.0,244.1 183.1,244.6 184.1,245.0 185.1,245.5 186.1,245.9 187.2,246.3 188.2,246.6 189.2,247.0 190.2,247.3 191.2,247.6 192.3,247.9 193.3,248.1 194.3,248.4 195.3,248.6 196.4,248.8 197.4,249.0 198.4,249.2 199.4,249.3 200.5,249.5 201.5,249.6 202.5,249.7 203.6,249.8 204.6,249.9 205.6,250.0 206.6,250.1 207.7,250.2 208.7,250.2 209.7,250.3 210.7,250.3 211.8,250.4 212.8,250.4 213.8,250.4 214.8,250.5 215.8,250.5 216.9,250.5 217.9,250.5 218.9,250.5 219.9,250.6 221.0,250.6 222.0,250.6 223.0,250.6 224.1,250.6 225.1,250.6 226.1,250.6 227.1,250.6 228.2,250.6 229.2,250.6 230.2,250.6 231.2,250.6 232.2,250.6 233.3,250.6 234.3,250.6 235.3,250.6 236.3,250.6 237.4,250.6 238.4,250.6 239.4,250.6 240.4,250.6 241.5,250.6 242.5,250.6 243.5,250.6 244.6,250.6 245.6,250.6 246.6,250.6 247.6,250.6 248.7,250.6 249.7,250.6 250.7,250.6 251.7,250.6 252.8,250.6 253.8,250.6 254.8,250.6 255.8,250.6 256.9,250.6 257.9,250.6 258.9,250.6 259.9,250.6 260.9,250.6"/></g>
<text class="t" x="211.8" y="214.4">MBST</text>
<text class="y" x="158.8" y="220.3">1</text>
<path class="k" d="M160.5 217.4h1M263.0 217.4h-1"/>
<text class="y" x="158.8" y="239.6">0.5</text>
<path class="k" d="M160.5 236.7h1M263.0 236.7h-1"/>
<text class="y" x="158.8" y="258.8">0</text>
<path class="k" d="M160.5 255.9h1M263.0 255.9h-1"/>
<text class="y" x="158.8" y="278.1">-0.5</text>
<path class="k" d="M160.5 275.1h1M263.0 275.1h-1"/>
<text class="y" x="158.8" y="297.3">-1</text>
<path class="k" d="M160.5 294.4h1M263.0 294.4h-1"/>
<text class="x" x="160.5" y="303.5">0</text>
<path class="k" d="M160.5 294.4v-1M160.5 217.4v1"/>
<text class="x" x="181.0" y="303.5">10</text>
<path class="k" d="M181.0 294.4v-1M181.0 217.4v1"/>
<text class="x" x="201.5" y="303.5">20</text>
<path class="k" d="M201.5 294.4v-1M201.5 217.4v1"/>
<text class="x" x="222.0" y="303.5">30</text>
<path class="k" d="M222.0 294.4v-1M222.0 217.4v1"/>
<text class="x" x="242.5" y="303.5">40</text>
<path class="k" d="M242.5 294.4v-1M242.5 217.4v1"/>
<text class="x" x="263.0" y="303.5">50</text>
<path class="k" d="M263.0 294.4v-1M263.0 217.4v1"/>
</g>
<g>
<g filter="url(#soft)">
<polygon class="d" points="298.3,257.3 299.4,273.1 300.4,278.6 301.4,271.3 302.4,260.8 303.5,255.3 304.5,251.0 305.5,247.2 306.5,244.1 307.5,241.2 308.6,238.6 309.6,236.3 310.6,234.2 311.6,232.3 312.7,230.7 313.7,229.4 314.7,228.2 315.7,227.2 316.7,226.3 317.8,225.5 318.8,224.9 319.8,224.4 320.8,224.0 321.9,223.6 322.9,223.3 323.9,223.1 324.9,222.9 325.9,222.8 327.0,222.7 328.0,222.7 329.0,222.7 330.0,222.8 331.0,222.9 332.1,223.1 333.1,223.4 334.1,223.7 335.1,224.0 336.2,224.3 337.2,224.7 338.2,225.1 339.2,225.5 340.2,225.9 341.3,226.3 342.3,226.6 343.3,227.0 344.3,227.4 345.4,227.9 346.4,228.3 347.4,228.7 348.4,229.1 349.4,229.4 350.5,229.8 351.5,230.2 352.5,230.6 353.5,230.9 354.6,231.3 355.6,231.6 356.6,231.9 357.6,232.2 358.6,232.5 359.7,232.7 360.7,233.0 361.7,233.2 362.7,233.4 363.8,233.6 364.8,233.7 365.8,233.9 366.8,234.0 367.8,234.2 368.9,234.3 369.9,234.4 370.9,234.6 371.9,234.7 372.9,234.8 374.0,234.9 375.0,235.0 376.0,235.0 377.0,235.1 378.1,235.2 379.1,235.2 380.1,235.3 381.1,235.3 382.1,235.3 383.2,235.4 384.2,235.4 385.2,235.4 386.2,235.4 387.3,235.4 388.3,235.4 389.3,235.4 390.3,235.3 391.3,235.3 392.4,235.3 393.4,235.3 394.4,235.2 395.4,235.2 396.5,235.2 396.5,271.3 395.4,271.3 394.4,271.4 393.4,271.4 392.4,271.5 391.3,271.5 390.3,271.6 389.3,271.6 388.3,271.7 387.3,271.8 386.2,271.8 385.2,271.9 384.2,271.9 383.2,272.0 382.1,272.0 381.1,272.1 380.1,272.1 379.1,272.1 378.1,272.1 377.0,272.1 376.0,272.0 375.0,272.0 374.0,271.9 372.9,271.9 371.9,271.8 370.9,271.7 369.9,271.6 368.9,271.4 367.8,271.3 366.8,271.2 365.8,271.0 364.8,270.8 363.8,270.6 362.7,270.4 361.7,270.2 360.7,270.0 359.7,269.7 358.6,269.4 357.6,269.1 356.6,268.8 355.6,268.5 354.6,268.1 353.5,267.7 352.5,267.4 351.5,267.0 350.5,266.5 349.4,266.1 348.4,265.6 347.4,265.2 346.4,264.7 345.4,264.2 344.3,263.7 343.3,263.2 342.3,262.7 341.3,262.2 340.2,261.7 339.2,261.2 338.2,260.7 337.2,260.2 336.2,259.8 335.1,259.3 334.1,258.9 333.1,258.5 332.1,258.2 331.0,257.9 330.0,257.7 329.0,257.5 328.0,257.4 327.0,257.3 325.9,257.2 324.9,257.2 323.9,257.2 322.9,257.3 321.9,257.4 320.8,257.7 319.8,257.9 318.8,258.3 317.8,258.7 316.7,259.3 315.7,259.8 314.7,260.5 313.7,261.3 312.7,262.3 311.6,263.4 310.6,264.8 309.6,266.3 308.6,268.1 307.5,270.0 306.5,272.1 305.5,274.2 304.5,276.6 303.5,279.4 302.4,282.6 301.4,286.8 300.4,289.5 299.4,279.8 298.3,257.3"/>
<polygon class="l" points="298.3,257.3 299.4,273.9 300.4,280.2 301.4,274.4 302.4,265.8 303.5,260.9 304.5,256.9 305.5,253.5 306.5,250.6 307.5,248.0 308.6,245.7 309.6,243.6 310.6,241.7 311.6,240.0 312.7,238.5 313.7,237.2 314.7,236.0 315.7,235.0 316.7,234.2 317.8,233.4 318.8,232.8 319.8,232.3 320.8,231.9 321.9,231.5 322.9,231.2 323.9,231.0 324.9,230.8 325.9,230.7 327.0,230.6 328.0,230.6 329.0,230.6 330.0,230.7 331.0,230.8 332.1,231.0 333.1,231.3 334.1,231.6 335.1,231.9 336.2,232.2 337.2,232.6 338.2,233.0 339.2,233.3 340.2,233.7 341.3,234.1 342.3,234.4 343.3,234.8 344.3,235.1 345.4,235.5 346.4,235.8 347.4,236.2 348.4,236.5 349.4,236.8 350.5,237.1 351.5,237.4 352.5,237.7 353.5,238.0 354.6,238.3 355.6,238.6 356.6,238.9 357.6,239.1 358.6,239.4 359.7,239.6 360.7,239.8 361.7,240.0 362.7,240.2 363.8,240.4 364.8,240.6 365.8,240.8 366.8,240.9 367.8,241.1 368.9,241.2 369.9,241.4 370.9,241.5 371.9,241.6 372.9,241.7 374.0,241.8 375.0,241.9 376.0,242.0 377.0,242.0 378.1,242.1 379.1,242.1 380.1,242.1 381.1,242.2 382.1,242.2 383.2,242.2 384.2,242.2 385.2,242.2 386.2,242.1 387.3,242.1 388.3,242.1 389.3,242.0 390.3,242.0 391.3,242.0 392.4,241.9 393.4,241.9 394.4,241.8 395.4,241.7 396.5,241.7 396.5,264.2 395.4,264.3 394.4,264.3 393.4,264.4 392.4,264.4 391.3,264.5 390.3,264.5 389.3,264.6 388.3,264.6 387.3,264.6 386.2,264.6 385.2,264.6 384.2,264.6 383.2,264.6 382.1,264.6 381.1,264.5 380.1,264.5 379.1,264.4 378.1,264.4 377.0,264.3 376.0,264.3 375.0,264.2 374.0,264.1 372.9,264.0 371.9,263.9 370.9,263.8 369.9,263.7 368.9,263.5 367.8,263.4 366.8,263.3 365.8,263.1 364.8,262.9 363.8,262.7 362.7,262.5 361.7,262.3 360.7,262.1 359.7,261.8 358.6,261.5 357.6,261.2 356.6,260.9 355.6,260.6 354.6,260.2 353.5,259.8 352.5,259.4 351.5,259.0 350.5,258.6 349.4,258.2 348.4,257.7 347.4,257.3 346.4,256.8 345.4,256.4 344.3,255.9 343.3,255.5 342.3,255.1 341.3,254.6 340.2,254.2 339.2,253.8 338.2,253.3 337.2,252.9 336.2,252.5 335.1,252.2 334.1,251.8 333.1,251.5 332.1,251.2 331.0,251.0 330.0,250.8 329.0,250.7 328.0,250.6 327.0,250.6 325.9,250.6 324.9,250.7 323.9,250.8 322.9,251.0 321.9,251.2 320.8,251.4 319.8,251.8 318.8,252.2 317.8,252.7 316.7,253.3 315.7,254.1 314.7,255.0 313.7,256.1 312.7,257.2 311.6,258.5 310.6,259.8 309.6,261.3 308.6,262.9 307.5,264.7 306.5,266.8 305.5,269.1 304.5,271.7 303.5,274.6 302.4,277.6 301.4,281.3 300.4,283.5 299.4,275.7 298.3,257.3"/>
</g>
<line x1="296.30" y1="290.45" x2="398.50" y2="290.45" stroke="#e8e8e8" stroke-width="0.7"/>
<rect class="bx" x="296.30" y="217.40" width="102.20" height="77.00"/>
<g filter="url(#soft)"><polyline class="m" points="298.3,257.3 299.4,269.4 300.4,281.6 301.4,277.1 302.4,272.7 303.5,269.1 304.5,265.8 305.5,262.6 306.5,259.8 307.5,257.5 308.6,255.4 309.6,253.6 310.6,252.0 311.6,250.5 312.7,249.1 313.7,247.9 314.7,246.9 315.7,245.9 316.7,245.0 317.8,244.3 318.8,243.7 319.8,243.2 320.8,242.7 321.9,242.4 322.9,242.1 323.9,241.8 324.9,241.7 325.9,241.6 327.0,241.5 328.0,241.5 329.0,241.5 330.0,241.6 331.0,241.7 332.1,241.8 333.1,242.0 334.1,242.3 335.1,242.5 336.2,242.8 337.2,243.1 338.2,243.4 339.2,243.7 340.2,244.0 341.3,244.3 342.3,244.7 343.3,245.0 344.3,245.3 345.4,245.7 346.4,246.1 347.4,246.4 348.4,246.8 349.4,247.2 350.5,247.5 351.5,247.9 352.5,248.3 353.5,248.6 354.6,249.0 355.6,249.3 356.6,249.7 357.6,250.0 358.6,250.3 359.7,250.6 360.7,250.9 361.7,251.2 362.7,251.4 363.8,251.7 364.8,251.9 365.8,252.1 366.8,252.3 367.8,252.5 368.9,252.7 369.9,252.9 370.9,253.1 371.9,253.2 372.9,253.4 374.0,253.5 375.0,253.6 376.0,253.7 377.0,253.8 378.1,253.9 379.1,254.0 380.1,254.1 381.1,254.2 382.1,254.2 383.2,254.3 384.2,254.4 385.2,254.4 386.2,254.5 387.3,254.5 388.3,254.5 389.3,254.5 390.3,254.5 391.3,254.6 392.4,254.6 393.4,254.5 394.4,254.5 395.4,254.5 396.5,254.5"/></g>
<text class="t" x="347.4" y="214.4">TREAST</text>
<text class="y" x="294.6" y="220.3">0.2</text>
<path class="k" d="M296.3 217.4h1M398.5 217.4h-1"/>
<text class="y" x="294.6" y="235.8">0</text>
<path class="k" d="M296.3 232.8h1M398.5 232.8h-1"/>
<text class="y" x="294.6" y="251.1">-0.2</text>
<path class="k" d="M296.3 248.2h1M398.5 248.2h-1"/>
<text class="y" x="294.6" y="266.5">-0.4</text>
<path class="k" d="M296.3 263.6h1M398.5 263.6h-1"/>
<text class="y" x="294.6" y="281.9">-0.6</text>
<path class="k" d="M296.3 279.0h1M398.5 279.0h-1"/>
<text class="y" x="294.6" y="297.3">-0.8</text>
<path class="k" d="M296.3 294.4h1M398.5 294.4h-1"/>
<text class="x" x="296.3" y="303.5">0</text>
<path class="k" d="M296.3 294.4v-1M296.3 217.4v1"/>
<text class="x" x="316.7" y="303.5">10</text>
<path class="k" d="M316.7 294.4v-1M316.7 217.4v1"/>
<text class="x" x="337.2" y="303.5">20</text>
<path class="k" d="M337.2 294.4v-1M337.2 217.4v1"/>
<text class="x" x="357.6" y="303.5">30</text>
<path class="k" d="M357.6 294.4v-1M357.6 217.4v1"/>
<text class="x" x="378.1" y="303.5">40</text>
<path class="k" d="M378.1 294.4v-1M378.1 217.4v1"/>
<text class="x" x="398.5" y="303.5">50</text>
<path class="k" d="M398.5 294.4v-1M398.5 217.4v1"/>
</g>
<g>
<g filter="url(#soft)">
<polygon class="d" points="433.5,279.0 434.5,273.8 435.5,267.7 436.5,259.9 437.6,252.9 438.6,248.9 439.6,246.0 440.7,243.8 441.7,242.1 442.7,240.8 443.7,239.7 444.8,238.9 445.8,238.1 446.8,237.5 447.8,237.0 448.9,236.5 449.9,236.0 450.9,235.6 452.0,235.2 453.0,234.7 454.0,234.2 455.0,233.8 456.1,233.3 457.1,232.8 458.1,232.2 459.2,231.7 460.2,231.2 461.2,230.7 462.2,230.2 463.3,229.8 464.3,229.3 465.3,228.8 466.4,228.4 467.4,228.0 468.4,227.6 469.4,227.2 470.5,226.9 471.5,226.6 472.5,226.3 473.5,226.0 474.6,225.8 475.6,225.6 476.6,225.4 477.7,225.2 478.7,225.1 479.7,225.0 480.7,224.9 481.8,224.8 482.8,224.7 483.8,224.7 484.9,224.6 485.9,224.6 486.9,224.6 487.9,224.6 489.0,224.6 490.0,224.6 491.0,224.6 492.1,224.7 493.1,224.7 494.1,224.7 495.1,224.8 496.2,224.8 497.2,224.9 498.2,224.9 499.2,225.0 500.3,225.1 501.3,225.1 502.3,225.2 503.4,225.3 504.4,225.4 505.4,225.5 506.4,225.6 507.5,225.7 508.5,225.8 509.5,226.0 510.6,226.1 511.6,226.2 512.6,226.4 513.6,226.5 514.7,226.6 515.7,226.7 516.7,226.9 517.8,227.0 518.8,227.1 519.8,227.3 520.8,227.4 521.9,227.6 522.9,227.7 523.9,227.9 524.9,228.0 526.0,228.2 527.0,228.4 528.0,228.5 529.1,228.7 530.1,228.9 531.1,229.1 532.1,229.2 532.1,252.5 531.1,252.3 530.1,252.1 529.1,251.9 528.0,251.7 527.0,251.5 526.0,251.3 524.9,251.1 523.9,251.0 522.9,250.8 521.9,250.7 520.8,250.5 519.8,250.4 518.8,250.3 517.8,250.1 516.7,250.0 515.7,249.9 514.7,249.7 513.6,249.6 512.6,249.4 511.6,249.3 510.6,249.1 509.5,248.9 508.5,248.8 507.5,248.6 506.4,248.5 505.4,248.3 504.4,248.1 503.4,248.0 502.3,247.9 501.3,247.8 500.3,247.6 499.2,247.5 498.2,247.4 497.2,247.3 496.2,247.3 495.1,247.2 494.1,247.1 493.1,247.0 492.1,246.9 491.0,246.9 490.0,246.8 489.0,246.7 487.9,246.6 486.9,246.6 485.9,246.5 484.9,246.5 483.8,246.4 482.8,246.4 481.8,246.4 480.7,246.4 479.7,246.4 478.7,246.5 477.7,246.5 476.6,246.6 475.6,246.7 474.6,246.8 473.5,246.9 472.5,247.0 471.5,247.2 470.5,247.3 469.4,247.5 468.4,247.7 467.4,247.9 466.4,248.2 465.3,248.5 464.3,248.7 463.3,249.1 462.2,249.4 461.2,249.7 460.2,250.1 459.2,250.5 458.1,250.9 457.1,251.3 456.1,251.8 455.0,252.2 454.0,252.7 453.0,253.1 452.0,253.5 450.9,254.0 449.9,254.4 448.9,254.9 447.8,255.4 446.8,255.9 445.8,256.5 444.8,257.2 443.7,257.9 442.7,258.8 441.7,259.8 440.7,261.1 439.6,262.8 438.6,265.0 437.6,267.7 436.5,271.3 435.5,274.7 434.5,277.1 433.5,279.0"/>
<polygon class="l" points="433.5,279.0 434.5,274.5 435.5,269.1 436.5,262.2 437.6,255.9 438.6,252.1 439.6,249.4 440.7,247.5 441.7,246.0 442.7,244.8 443.7,243.8 444.8,242.9 445.8,242.1 446.8,241.4 447.8,240.7 448.9,240.2 449.9,239.7 450.9,239.2 452.0,238.7 453.0,238.2 454.0,237.7 455.0,237.2 456.1,236.7 457.1,236.2 458.1,235.7 459.2,235.2 460.2,234.7 461.2,234.2 462.2,233.8 463.3,233.4 464.3,233.0 465.3,232.6 466.4,232.3 467.4,232.0 468.4,231.7 469.4,231.4 470.5,231.1 471.5,230.9 472.5,230.6 473.5,230.4 474.6,230.2 475.6,230.0 476.6,229.8 477.7,229.6 478.7,229.4 479.7,229.2 480.7,229.1 481.8,229.0 482.8,228.9 483.8,228.8 484.9,228.7 485.9,228.6 486.9,228.6 487.9,228.6 489.0,228.6 490.0,228.6 491.0,228.6 492.1,228.6 493.1,228.7 494.1,228.7 495.1,228.7 496.2,228.8 497.2,228.8 498.2,228.9 499.2,229.0 500.3,229.0 501.3,229.1 502.3,229.2 503.4,229.2 504.4,229.3 505.4,229.4 506.4,229.5 507.5,229.6 508.5,229.7 509.5,229.8 510.6,229.9 511.6,230.0 512.6,230.1 513.6,230.2 514.7,230.4 515.7,230.5 516.7,230.6 517.8,230.8 518.8,230.9 519.8,231.0 520.8,231.2 521.9,231.3 522.9,231.5 523.9,231.6 524.9,231.8 526.0,231.9 527.0,232.1 528.0,232.2 529.1,232.4 530.1,232.5 531.1,232.7 532.1,232.8 532.1,248.0 531.1,247.8 530.1,247.6 529.1,247.4 528.0,247.2 527.0,247.0 526.0,246.8 524.9,246.6 523.9,246.4 522.9,246.2 521.9,246.1 520.8,245.9 519.8,245.7 518.8,245.5 517.8,245.3 516.7,245.2 515.7,245.0 514.7,244.8 513.6,244.6 512.6,244.5 511.6,244.3 510.6,244.1 509.5,244.0 508.5,243.8 507.5,243.6 506.4,243.5 505.4,243.3 504.4,243.2 503.4,243.1 502.3,242.9 501.3,242.8 500.3,242.7 499.2,242.6 498.2,242.5 497.2,242.4 496.2,242.3 495.1,242.2 494.1,242.2 493.1,242.1 492.1,242.0 491.0,241.9 490.0,241.9 489.0,241.8 487.9,241.8 486.9,241.7 485.9,241.7 484.9,241.7 483.8,241.7 482.8,241.7 481.8,241.7 480.7,241.7 479.7,241.8 478.7,241.8 477.7,241.9 476.6,242.0 475.6,242.1 474.6,242.2 473.5,242.3 472.5,242.5 471.5,242.6 470.5,242.8 469.4,243.0 468.4,243.3 467.4,243.5 466.4,243.8 465.3,244.0 464.3,244.4 463.3,244.7 462.2,245.0 461.2,245.4 460.2,245.8 459.2,246.2 458.1,246.7 457.1,247.1 456.1,247.6 455.0,248.0 454.0,248.5 453.0,248.9 452.0,249.4 450.9,249.8 449.9,250.3 448.9,250.8 447.8,251.3 446.8,251.8 445.8,252.3 444.8,253.0 443.7,253.7 442.7,254.5 441.7,255.5 440.7,256.8 439.6,258.5 438.6,260.8 437.6,263.8 436.5,268.1 435.5,272.7 434.5,276.1 433.5,279.0"/>
</g>
<line x1="431.40" y1="279.59" x2="534.20" y2="279.59" stroke="#e0e0e0" stroke-width="0.7"/>
<rect class="bx" x="431.40" y="217.40" width="102.80" height="77.00"/>
<g filter="url(#soft)"><polyline class="m" points="433.5,279.0 434.5,278.6 435.5,270.7 436.5,265.3 437.6,259.8 438.6,256.4 439.6,253.9 440.7,252.2 441.7,251.0 442.7,249.9 443.7,249.0 444.8,248.2 445.8,247.4 446.8,246.7 447.8,246.1 448.9,245.5 449.9,245.0 450.9,244.5 452.0,244.1 453.0,243.6 454.0,243.1 455.0,242.6 456.1,242.2 457.1,241.7 458.1,241.3 459.2,240.8 460.2,240.4 461.2,239.9 462.2,239.5 463.3,239.1 464.3,238.7 465.3,238.3 466.4,238.0 467.4,237.6 468.4,237.3 469.4,237.0 470.5,236.7 471.5,236.4 472.5,236.2 473.5,235.9 474.6,235.7 475.6,235.6 476.6,235.4 477.7,235.2 478.7,235.1 479.7,235.0 480.7,234.9 481.8,234.8 482.8,234.8 483.8,234.7 484.9,234.7 485.9,234.6 486.9,234.6 487.9,234.6 489.0,234.6 490.0,234.6 491.0,234.6 492.1,234.6 493.1,234.6 494.1,234.6 495.1,234.6 496.2,234.6 497.2,234.7 498.2,234.7 499.2,234.8 500.3,234.8 501.3,234.9 502.3,234.9 503.4,235.0 504.4,235.0 505.4,235.1 506.4,235.2 507.5,235.3 508.5,235.3 509.5,235.4 510.6,235.5 511.6,235.6 512.6,235.7 513.6,235.8 514.7,235.9 515.7,235.9 516.7,236.0 517.8,236.1 518.8,236.2 519.8,236.3 520.8,236.4 521.9,236.5 522.9,236.6 523.9,236.7 524.9,236.9 526.0,237.0 527.0,237.1 528.0,237.2 529.1,237.4 530.1,237.5 531.1,237.6 532.1,237.7"/></g>
<text class="t" x="482.8" y="214.4">WRESBAL</text>
<text class="y" x="429.7" y="220.3">0.6</text>
<path class="k" d="M431.4 217.4h1M534.2 217.4h-1"/>
<text class="y" x="429.7" y="235.8">0.4</text>
<path class="k" d="M431.4 232.8h1M534.2 232.8h-1"/>
<text class="y" x="429.7" y="251.1">0.2</text>
<path class="k" d="M431.4 248.2h1M534.2 248.2h-1"/>
<text class="y" x="429.7" y="266.5">0</text>
<path class="k" d="M431.4 263.6h1M534.2 263.6h-1"/>
<text class="y" x="429.7" y="281.9">-0.2</text>
<path class="k" d="M431.4 279.0h1M534.2 279.0h-1"/>
<text class="y" x="429.7" y="297.3">-0.4</text>
<path class="k" d="M431.4 294.4h1M534.2 294.4h-1"/>
<text class="x" x="431.4" y="303.5">0</text>
<path class="k" d="M431.4 294.4v-1M431.4 217.4v1"/>
<text class="x" x="452.0" y="303.5">10</text>
<path class="k" d="M452.0 294.4v-1M452.0 217.4v1"/>
<text class="x" x="472.5" y="303.5">20</text>
<path class="k" d="M472.5 294.4v-1M472.5 217.4v1"/>
<text class="x" x="493.1" y="303.5">30</text>
<path class="k" d="M493.1 294.4v-1M493.1 217.4v1"/>
<text class="x" x="513.6" y="303.5">40</text>
<path class="k" d="M513.6 294.4v-1M513.6 217.4v1"/>
<text class="x" x="534.2" y="303.5">50</text>
<path class="k" d="M534.2 294.4v-1M534.2 217.4v1"/>
</g>
<g>
<g filter="url(#soft)">
<polygon class="d" points="94.8,362.6 95.9,344.4 96.9,336.8 97.9,339.5 99.0,343.7 100.0,346.6 101.0,348.7 102.0,349.9 103.0,350.7 104.1,351.2 105.1,351.7 106.1,352.0 107.2,352.3 108.2,352.5 109.2,352.6 110.2,352.6 111.2,352.7 112.3,352.7 113.3,352.7 114.3,352.7 115.3,352.7 116.4,352.7 117.4,352.8 118.4,352.8 119.5,352.9 120.5,352.9 121.5,353.0 122.5,353.0 123.5,353.1 124.6,353.1 125.6,353.2 126.6,353.3 127.7,353.3 128.7,353.4 129.7,353.4 130.7,353.5 131.8,353.6 132.8,353.6 133.8,353.7 134.8,353.7 135.9,353.8 136.9,353.8 137.9,353.9 138.9,353.9 139.9,353.9 141.0,354.0 142.0,354.0 143.0,354.0 144.1,354.0 145.1,354.1 146.1,354.1 147.1,354.1 148.2,354.1 149.2,354.2 150.2,354.2 151.2,354.2 152.2,354.2 153.3,354.2 154.3,354.3 155.3,354.3 156.4,354.3 157.4,354.3 158.4,354.3 159.4,354.4 160.4,354.4 161.5,354.4 162.5,354.4 163.5,354.4 164.6,354.5 165.6,354.5 166.6,354.5 167.6,354.5 168.7,354.5 169.7,354.6 170.7,354.6 171.7,354.6 172.8,354.6 173.8,354.6 174.8,354.7 175.8,354.7 176.9,354.7 177.9,354.7 178.9,354.7 179.9,354.8 181.0,354.8 182.0,354.8 183.0,354.8 184.0,354.9 185.1,354.9 186.1,354.9 187.1,354.9 188.1,354.9 189.2,355.0 190.2,355.0 191.2,355.0 192.2,355.0 193.2,355.1 193.2,372.5 192.2,372.6 191.2,372.7 190.2,372.8 189.2,372.9 188.1,373.0 187.1,373.0 186.1,373.1 185.1,373.2 184.0,373.3 183.0,373.4 182.0,373.4 181.0,373.5 179.9,373.6 178.9,373.7 177.9,373.7 176.9,373.8 175.8,373.9 174.8,373.9 173.8,374.0 172.8,374.1 171.7,374.1 170.7,374.2 169.7,374.2 168.7,374.3 167.6,374.4 166.6,374.4 165.6,374.5 164.6,374.5 163.5,374.6 162.5,374.7 161.5,374.7 160.4,374.8 159.4,374.8 158.4,374.9 157.4,374.9 156.4,375.0 155.3,375.1 154.3,375.1 153.3,375.2 152.2,375.3 151.2,375.3 150.2,375.4 149.2,375.5 148.2,375.5 147.1,375.6 146.1,375.7 145.1,375.8 144.1,375.8 143.0,375.9 142.0,376.0 141.0,376.1 139.9,376.1 138.9,376.2 137.9,376.3 136.9,376.3 135.9,376.4 134.8,376.5 133.8,376.5 132.8,376.6 131.8,376.6 130.7,376.7 129.7,376.8 128.7,376.8 127.7,376.9 126.6,376.9 125.6,377.0 124.6,377.1 123.5,377.1 122.5,377.2 121.5,377.3 120.5,377.3 119.5,377.4 118.4,377.5 117.4,377.6 116.4,377.7 115.3,377.7 114.3,377.8 113.3,377.9 112.3,378.0 111.2,378.1 110.2,378.2 109.2,378.3 108.2,378.4 107.2,378.5 106.1,378.6 105.1,378.5 104.1,378.2 103.0,377.5 102.0,376.7 101.0,375.5 100.0,373.8 99.0,371.6 97.9,367.8 96.9,364.6 95.9,363.2 94.8,362.6"/>
<polygon class="l" points="94.8,362.6 95.9,350.7 96.9,345.7 97.9,347.7 99.0,350.7 100.0,352.9 101.0,354.7 102.0,355.9 103.0,356.6 104.1,357.0 105.1,357.2 106.1,357.5 107.2,357.6 108.2,357.8 109.2,357.9 110.2,358.0 111.2,358.0 112.3,358.0 113.3,358.0 114.3,358.1 115.3,358.1 116.4,358.1 117.4,358.1 118.4,358.1 119.5,358.1 120.5,358.2 121.5,358.2 122.5,358.2 123.5,358.2 124.6,358.2 125.6,358.3 126.6,358.3 127.7,358.3 128.7,358.3 129.7,358.4 130.7,358.4 131.8,358.4 132.8,358.4 133.8,358.4 134.8,358.5 135.9,358.5 136.9,358.5 137.9,358.5 138.9,358.5 139.9,358.6 141.0,358.6 142.0,358.6 143.0,358.6 144.1,358.6 145.1,358.6 146.1,358.6 147.1,358.6 148.2,358.6 149.2,358.6 150.2,358.6 151.2,358.7 152.2,358.6 153.3,358.6 154.3,358.6 155.3,358.6 156.4,358.6 157.4,358.6 158.4,358.6 159.4,358.6 160.4,358.6 161.5,358.5 162.5,358.5 163.5,358.5 164.6,358.5 165.6,358.4 166.6,358.4 167.6,358.4 168.7,358.4 169.7,358.3 170.7,358.3 171.7,358.3 172.8,358.3 173.8,358.3 174.8,358.2 175.8,358.2 176.9,358.2 177.9,358.2 178.9,358.2 179.9,358.2 181.0,358.1 182.0,358.1 183.0,358.1 184.0,358.1 185.1,358.1 186.1,358.1 187.1,358.1 188.1,358.1 189.2,358.1 190.2,358.1 191.2,358.1 192.2,358.0 193.2,358.0 193.2,369.6 192.2,369.6 191.2,369.7 190.2,369.7 189.2,369.8 188.1,369.8 187.1,369.9 186.1,370.0 185.1,370.0 184.0,370.1 183.0,370.1 182.0,370.2 181.0,370.2 179.9,370.3 178.9,370.3 177.9,370.4 176.9,370.5 175.8,370.5 174.8,370.6 173.8,370.6 172.8,370.7 171.7,370.7 170.7,370.8 169.7,370.8 168.7,370.9 167.6,370.9 166.6,371.0 165.6,371.0 164.6,371.1 163.5,371.1 162.5,371.2 161.5,371.2 160.4,371.3 159.4,371.3 158.4,371.4 157.4,371.4 156.4,371.5 155.3,371.5 154.3,371.6 153.3,371.6 152.2,371.7 151.2,371.7 150.2,371.8 149.2,371.8 148.2,371.9 147.1,371.9 146.1,372.0 145.1,372.0 144.1,372.1 143.0,372.1 142.0,372.2 141.0,372.2 139.9,372.3 138.9,372.3 137.9,372.4 136.9,372.4 135.9,372.5 134.8,372.5 133.8,372.5 132.8,372.6 131.8,372.6 130.7,372.7 129.7,372.7 128.7,372.8 127.7,372.8 126.6,372.8 125.6,372.9 124.6,372.9 123.5,372.9 122.5,373.0 121.5,373.0 120.5,373.0 119.5,373.0 118.4,373.1 117.4,373.1 116.4,373.1 115.3,373.1 114.3,373.1 113.3,373.1 112.3,373.2 111.2,373.2 110.2,373.1 109.2,373.1 108.2,373.0 107.2,372.9 106.1,372.8 105.1,372.5 104.1,372.1 103.0,371.6 102.0,370.7 101.0,369.6 100.0,367.8 99.0,365.6 97.9,362.0 96.9,359.6 95.9,360.2 94.8,362.6"/>
</g>
<line x1="92.80" y1="378.51" x2="195.30" y2="378.51" stroke="#dcdcdc" stroke-width="0.7"/>
<rect class="bx" x="92.80" y="317.90" width="102.50" height="77.50"/>
<g filter="url(#soft)"><polyline class="m" points="94.8,362.6 95.9,356.9 96.9,351.3 97.9,354.0 99.0,356.6 100.0,359.2 101.0,361.2 102.0,362.6 103.0,363.6 104.1,364.2 105.1,364.6 106.1,364.8 107.2,365.0 108.2,365.1 109.2,365.2 110.2,365.2 111.2,365.2 112.3,365.2 113.3,365.2 114.3,365.2 115.3,365.2 116.4,365.2 117.4,365.2 118.4,365.2 119.5,365.2 120.5,365.2 121.5,365.2 122.5,365.2 123.5,365.2 124.6,365.2 125.6,365.2 126.6,365.2 127.7,365.2 128.7,365.2 129.7,365.2 130.7,365.2 131.8,365.2 132.8,365.2 133.8,365.2 134.8,365.2 135.9,365.2 136.9,365.2 137.9,365.2 138.9,365.2 139.9,365.2 141.0,365.2 142.0,365.2 143.0,365.2 144.1,365.2 145.1,365.2 146.1,365.2 147.1,365.2 148.2,365.2 149.2,365.2 150.2,365.2 151.2,365.2 152.2,365.2 153.3,365.2 154.3,365.2 155.3,365.2 156.4,365.2 157.4,365.2 158.4,365.1 159.4,365.1 160.4,365.1 161.5,365.1 162.5,365.1 163.5,365.1 164.6,365.0 165.6,365.0 166.6,365.0 167.6,365.0 168.7,365.0 169.7,364.9 170.7,364.9 171.7,364.9 172.8,364.9 173.8,364.8 174.8,364.8 175.8,364.8 176.9,364.7 177.9,364.7 178.9,364.7 179.9,364.6 181.0,364.6 182.0,364.6 183.0,364.5 184.0,364.5 185.1,364.5 186.1,364.4 187.1,364.4 188.1,364.4 189.2,364.3 190.2,364.3 191.2,364.3 192.2,364.2 193.2,364.2"/></g>
<text class="t" x="144.1" y="314.9">CURRCIR</text>
<text class="y" x="91.1" y="320.8">0.4</text>
<path class="k" d="M92.8 317.9h1M195.3 317.9h-1"/>
<text class="y" x="91.1" y="340.2">0.2</text>
<path class="k" d="M92.8 337.3h1M195.3 337.3h-1"/>
<text class="y" x="91.1" y="359.6">0</text>
<path class="k" d="M92.8 356.6h1M195.3 356.6h-1"/>
<text class="y" x="91.1" y="379.0">-0.2</text>
<path class="k" d="M92.8 376.0h1M195.3 376.0h-1"/>
<text class="y" x="91.1" y="398.3">-0.4</text>
<path class="k" d="M92.8 395.4h1M195.3 395.4h-1"/>
<text class="x" x="92.8" y="404.5">0</text>
<path class="k" d="M92.8 395.4v-1M92.8 317.9v1"/>
<text class="x" x="113.3" y="404.5">10</text>
<path class="k" d="M113.3 395.4v-1M113.3 317.9v1"/>
<text class="x" x="133.8" y="404.5">20</text>
<path class="k" d="M133.8 395.4v-1M133.8 317.9v1"/>
<text class="x" x="154.3" y="404.5">30</text>
<path class="k" d="M154.3 395.4v-1M154.3 317.9v1"/>
<text class="x" x="174.8" y="404.5">40</text>
<path class="k" d="M174.8 395.4v-1M174.8 317.9v1"/>
<text class="x" x="195.3" y="404.5">50</text>
<path class="k" d="M195.3 395.4v-1M195.3 317.9v1"/>
</g>
<g>
<g filter="url(#soft)">
<polygon class="d" points="230.5,329.4 231.6,339.4 232.6,343.7 233.6,342.5 234.6,340.8 235.6,340.0 236.7,339.4 237.7,338.7 238.7,338.2 239.7,337.6 240.8,337.2 241.8,336.7 242.8,336.4 243.8,336.1 244.8,335.9 245.9,335.7 246.9,335.6 247.9,335.5 248.9,335.4 249.9,335.3 251.0,335.3 252.0,335.2 253.0,335.2 254.0,335.2 255.0,335.2 256.1,335.2 257.1,335.3 258.1,335.3 259.1,335.4 260.2,335.5 261.2,335.5 262.2,335.6 263.2,335.7 264.2,335.8 265.3,335.9 266.3,336.0 267.3,336.1 268.3,336.2 269.3,336.4 270.4,336.5 271.4,336.7 272.4,336.8 273.4,337.0 274.4,337.2 275.5,337.4 276.5,337.6 277.5,337.8 278.5,338.0 279.6,338.2 280.6,338.4 281.6,338.6 282.6,338.8 283.6,339.0 284.7,339.2 285.7,339.4 286.7,339.6 287.7,339.8 288.7,340.0 289.8,340.2 290.8,340.3 291.8,340.5 292.8,340.7 293.8,340.8 294.9,341.0 295.9,341.1 296.9,341.3 297.9,341.4 298.9,341.6 300.0,341.7 301.0,341.9 302.0,342.1 303.0,342.2 304.1,342.4 305.1,342.5 306.1,342.7 307.1,342.9 308.1,343.0 309.2,343.2 310.2,343.3 311.2,343.5 312.2,343.6 313.2,343.8 314.3,343.9 315.3,344.1 316.3,344.2 317.3,344.3 318.3,344.5 319.4,344.6 320.4,344.7 321.4,344.9 322.4,345.0 323.5,345.1 324.5,345.2 325.5,345.4 326.5,345.5 327.5,345.6 328.6,345.7 328.6,386.5 327.5,386.5 326.5,386.5 325.5,386.5 324.5,386.6 323.5,386.6 322.4,386.6 321.4,386.6 320.4,386.7 319.4,386.7 318.3,386.7 317.3,386.7 316.3,386.8 315.3,386.8 314.3,386.8 313.2,386.8 312.2,386.8 311.2,386.8 310.2,386.9 309.2,386.9 308.1,386.9 307.1,386.9 306.1,386.9 305.1,386.9 304.1,386.9 303.0,386.9 302.0,386.9 301.0,386.9 300.0,386.9 298.9,386.8 297.9,386.8 296.9,386.8 295.9,386.7 294.9,386.7 293.8,386.7 292.8,386.6 291.8,386.6 290.8,386.5 289.8,386.5 288.7,386.4 287.7,386.3 286.7,386.3 285.7,386.2 284.7,386.1 283.6,386.0 282.6,385.9 281.6,385.8 280.6,385.6 279.6,385.5 278.5,385.3 277.5,385.1 276.5,384.9 275.5,384.7 274.4,384.5 273.4,384.3 272.4,384.1 271.4,383.9 270.4,383.7 269.3,383.5 268.3,383.3 267.3,383.1 266.3,382.9 265.3,382.8 264.2,382.6 263.2,382.5 262.2,382.4 261.2,382.3 260.2,382.2 259.1,382.1 258.1,382.0 257.1,382.0 256.1,382.0 255.0,382.1 254.0,382.2 253.0,382.4 252.0,382.6 251.0,382.9 249.9,383.2 248.9,383.5 247.9,383.8 246.9,384.2 245.9,384.6 244.8,385.1 243.8,385.7 242.8,386.5 241.8,387.3 240.8,388.0 239.7,388.6 238.7,388.8 237.7,388.8 236.7,388.4 235.6,387.4 234.6,385.5 233.6,382.7 232.6,377.5 231.6,360.3 230.5,329.4"/>
<polygon class="l" points="230.5,329.4 231.6,345.6 232.6,352.7 233.6,351.3 234.6,349.7 235.6,349.4 236.7,349.1 237.7,348.7 238.7,348.3 239.7,347.9 240.8,347.5 241.8,347.1 242.8,346.7 243.8,346.4 244.8,346.1 245.9,345.8 246.9,345.6 247.9,345.3 248.9,345.1 249.9,344.9 251.0,344.8 252.0,344.6 253.0,344.5 254.0,344.4 255.0,344.3 256.1,344.3 257.1,344.3 258.1,344.3 259.1,344.3 260.2,344.4 261.2,344.4 262.2,344.5 263.2,344.5 264.2,344.6 265.3,344.7 266.3,344.8 267.3,344.9 268.3,345.0 269.3,345.1 270.4,345.3 271.4,345.4 272.4,345.6 273.4,345.7 274.4,345.9 275.5,346.0 276.5,346.2 277.5,346.4 278.5,346.5 279.6,346.7 280.6,346.9 281.6,347.0 282.6,347.2 283.6,347.4 284.7,347.5 285.7,347.7 286.7,347.8 287.7,348.0 288.7,348.2 289.8,348.3 290.8,348.5 291.8,348.6 292.8,348.8 293.8,348.9 294.9,349.0 295.9,349.2 296.9,349.3 297.9,349.4 298.9,349.6 300.0,349.7 301.0,349.8 302.0,349.9 303.0,350.0 304.1,350.1 305.1,350.2 306.1,350.3 307.1,350.4 308.1,350.5 309.2,350.6 310.2,350.7 311.2,350.8 312.2,350.9 313.2,351.0 314.3,351.1 315.3,351.2 316.3,351.3 317.3,351.4 318.3,351.5 319.4,351.6 320.4,351.7 321.4,351.9 322.4,352.0 323.5,352.1 324.5,352.2 325.5,352.3 326.5,352.4 327.5,352.6 328.6,352.7 328.6,377.5 327.5,377.5 326.5,377.5 325.5,377.5 324.5,377.5 323.5,377.4 322.4,377.4 321.4,377.4 320.4,377.4 319.4,377.4 318.3,377.4 317.3,377.3 316.3,377.3 315.3,377.3 314.3,377.3 313.2,377.2 312.2,377.2 311.2,377.2 310.2,377.1 309.2,377.1 308.1,377.0 307.1,377.0 306.1,376.9 305.1,376.9 304.1,376.8 303.0,376.7 302.0,376.7 301.0,376.6 300.0,376.5 298.9,376.4 297.9,376.4 296.9,376.3 295.9,376.2 294.9,376.1 293.8,376.0 292.8,375.9 291.8,375.8 290.8,375.6 289.8,375.5 288.7,375.4 287.7,375.3 286.7,375.2 285.7,375.0 284.7,374.9 283.6,374.8 282.6,374.6 281.6,374.5 280.6,374.3 279.6,374.1 278.5,374.0 277.5,373.8 276.5,373.6 275.5,373.4 274.4,373.2 273.4,373.0 272.4,372.7 271.4,372.5 270.4,372.3 269.3,372.1 268.3,372.0 267.3,371.8 266.3,371.6 265.3,371.5 264.2,371.3 263.2,371.2 262.2,371.1 261.2,371.0 260.2,371.0 259.1,371.0 258.1,371.0 257.1,371.0 256.1,371.1 255.0,371.2 254.0,371.3 253.0,371.5 252.0,371.7 251.0,371.9 249.9,372.2 248.9,372.5 247.9,372.9 246.9,373.4 245.9,373.8 244.8,374.3 243.8,374.7 242.8,375.1 241.8,375.5 240.8,375.9 239.7,376.3 238.7,376.5 237.7,376.6 236.7,376.5 235.6,375.9 234.6,374.5 233.6,372.5 232.6,368.6 231.6,354.7 230.5,329.4"/>
</g>
<line x1="228.50" y1="389.04" x2="330.60" y2="389.04" stroke="#d8d8d8" stroke-width="0.7"/>
<rect class="bx" x="228.50" y="317.90" width="102.10" height="77.50"/>
<g filter="url(#soft)"><polyline class="m" points="230.5,329.4 231.6,343.5 232.6,357.6 233.6,358.8 234.6,360.0 235.6,360.4 236.7,360.6 237.7,360.4 238.7,360.0 239.7,359.6 240.8,359.1 241.8,358.7 242.8,358.2 243.8,357.8 244.8,357.5 245.9,357.1 246.9,356.8 247.9,356.5 248.9,356.3 249.9,356.0 251.0,355.8 252.0,355.6 253.0,355.5 254.0,355.3 255.0,355.3 256.1,355.2 257.1,355.2 258.1,355.2 259.1,355.3 260.2,355.3 261.2,355.4 262.2,355.5 263.2,355.6 264.2,355.7 265.3,355.8 266.3,355.9 267.3,356.0 268.3,356.1 269.3,356.3 270.4,356.4 271.4,356.5 272.4,356.6 273.4,356.8 274.4,356.9 275.5,357.1 276.5,357.2 277.5,357.3 278.5,357.5 279.6,357.6 280.6,357.8 281.6,358.0 282.6,358.1 283.6,358.3 284.7,358.4 285.7,358.6 286.7,358.8 287.7,358.9 288.7,359.1 289.8,359.2 290.8,359.4 291.8,359.5 292.8,359.7 293.8,359.8 294.9,360.0 295.9,360.1 296.9,360.2 297.9,360.4 298.9,360.5 300.0,360.6 301.0,360.7 302.0,360.8 303.0,361.0 304.1,361.1 305.1,361.2 306.1,361.3 307.1,361.3 308.1,361.4 309.2,361.5 310.2,361.6 311.2,361.7 312.2,361.8 313.2,361.9 314.3,362.0 315.3,362.1 316.3,362.2 317.3,362.2 318.3,362.3 319.4,362.4 320.4,362.5 321.4,362.6 322.4,362.7 323.5,362.8 324.5,362.9 325.5,362.9 326.5,363.0 327.5,363.1 328.6,363.2"/></g>
<text class="t" x="279.6" y="314.9">AMBSL</text>
<text class="y" x="226.8" y="320.8">0.4</text>
<path class="k" d="M228.5 317.9h1M330.6 317.9h-1"/>
<text class="y" x="226.8" y="346.7">0.2</text>
<path class="k" d="M228.5 343.7h1M330.6 343.7h-1"/>
<text class="y" x="226.8" y="372.5">0</text>
<path class="k" d="M228.5 369.6h1M330.6 369.6h-1"/>
<text class="y" x="226.8" y="398.3">-0.2</text>
<path class="k" d="M228.5 395.4h1M330.6 395.4h-1"/>
<text class="x" x="228.5" y="404.5">0</text>
<path class="k" d="M228.5 395.4v-1M228.5 317.9v1"/>
<text class="x" x="248.9" y="404.5">10</text>
<path class="k" d="M248.9 395.4v-1M248.9 317.9v1"/>
<text class="x" x="269.3" y="404.5">20</text>
<path class="k" d="M269.3 395.4v-1M269.3 317.9v1"/>
<text class="x" x="289.8" y="404.5">30</text>
<path class="k" d="M289.8 395.4v-1M289.8 317.9v1"/>
<text class="x" x="310.2" y="404.5">40</text>
<path class="k" d="M310.2 395.4v-1M310.2 317.9v1"/>
<text class="x" x="330.6" y="404.5">50</text>
<path class="k" d="M330.6 395.4v-1M330.6 317.9v1"/>
</g>
<g>
<g filter="url(#soft)">
<polygon class="d" points="365.8,370.0 366.8,370.3 367.8,370.6 368.8,370.8 369.9,371.0 370.9,370.9 371.9,370.8 372.9,370.7 374.0,370.6 375.0,370.3 376.0,370.0 377.1,369.6 378.1,369.2 379.1,368.7 380.1,368.3 381.2,367.8 382.2,367.3 383.2,366.7 384.2,366.2 385.3,365.6 386.3,365.0 387.3,364.5 388.3,363.8 389.4,363.2 390.4,362.6 391.4,362.0 392.5,361.3 393.5,360.7 394.5,360.0 395.5,359.4 396.6,358.7 397.6,358.1 398.6,357.4 399.6,356.8 400.7,356.2 401.7,355.5 402.7,354.9 403.8,354.3 404.8,353.7 405.8,353.1 406.8,352.5 407.9,351.9 408.9,351.3 409.9,350.7 410.9,350.2 412.0,349.7 413.0,349.1 414.0,348.6 415.0,348.1 416.1,347.6 417.1,347.1 418.1,346.7 419.2,346.2 420.2,345.8 421.2,345.4 422.2,344.9 423.3,344.5 424.3,344.1 425.3,343.7 426.3,343.3 427.4,343.0 428.4,342.6 429.4,342.2 430.5,341.9 431.5,341.5 432.5,341.2 433.5,340.8 434.6,340.5 435.6,340.2 436.6,339.8 437.6,339.5 438.7,339.2 439.7,338.9 440.7,338.7 441.8,338.4 442.8,338.1 443.8,337.9 444.8,337.6 445.9,337.4 446.9,337.1 447.9,336.9 448.9,336.7 450.0,336.5 451.0,336.3 452.0,336.0 453.0,335.8 454.1,335.6 455.1,335.4 456.1,335.2 457.2,335.0 458.2,334.8 459.2,334.5 460.2,334.3 461.3,334.1 462.3,333.9 463.3,333.6 464.3,333.4 464.3,367.6 463.3,367.7 462.3,367.7 461.3,367.8 460.2,367.9 459.2,367.9 458.2,368.0 457.2,368.1 456.1,368.2 455.1,368.3 454.1,368.3 453.0,368.4 452.0,368.5 451.0,368.6 450.0,368.6 448.9,368.7 447.9,368.8 446.9,368.9 445.9,369.0 444.8,369.1 443.8,369.1 442.8,369.2 441.8,369.3 440.7,369.4 439.7,369.5 438.7,369.6 437.6,369.7 436.6,369.8 435.6,370.0 434.6,370.1 433.5,370.2 432.5,370.4 431.5,370.5 430.5,370.7 429.4,370.8 428.4,371.0 427.4,371.2 426.3,371.4 425.3,371.6 424.3,371.7 423.3,371.9 422.2,372.1 421.2,372.3 420.2,372.5 419.2,372.7 418.1,372.9 417.1,373.1 416.1,373.3 415.0,373.5 414.0,373.7 413.0,373.9 412.0,374.1 410.9,374.3 409.9,374.5 408.9,374.7 407.9,374.9 406.8,375.1 405.8,375.3 404.8,375.5 403.8,375.8 402.7,376.0 401.7,376.2 400.7,376.5 399.6,376.7 398.6,377.0 397.6,377.2 396.6,377.5 395.5,377.7 394.5,377.9 393.5,378.1 392.5,378.3 391.4,378.5 390.4,378.6 389.4,378.8 388.3,378.9 387.3,379.0 386.3,379.0 385.3,379.1 384.2,379.1 383.2,379.1 382.2,379.1 381.2,379.0 380.1,378.9 379.1,378.7 378.1,378.5 377.1,378.3 376.0,378.0 375.0,377.6 374.0,377.1 372.9,376.6 371.9,376.0 370.9,375.3 369.9,374.5 368.8,373.6 367.8,372.5 366.8,371.3 365.8,370.0"/>
<polygon class="l" points="365.8,370.0 366.8,370.5 367.8,371.0 368.8,371.6 369.9,372.0 370.9,372.0 371.9,372.1 372.9,372.1 374.0,372.1 375.0,372.1 376.0,372.0 377.1,371.8 378.1,371.6 379.1,371.3 380.1,371.0 381.2,370.7 382.2,370.3 383.2,370.0 384.2,369.6 385.3,369.1 386.3,368.7 387.3,368.2 388.3,367.7 389.4,367.2 390.4,366.7 391.4,366.2 392.5,365.7 393.5,365.1 394.5,364.6 395.5,364.1 396.6,363.5 397.6,363.0 398.6,362.4 399.6,361.9 400.7,361.3 401.7,360.8 402.7,360.3 403.8,359.7 404.8,359.2 405.8,358.7 406.8,358.3 407.9,357.8 408.9,357.3 409.9,356.9 410.9,356.4 412.0,356.0 413.0,355.5 414.0,355.1 415.0,354.7 416.1,354.2 417.1,353.8 418.1,353.4 419.2,353.0 420.2,352.6 421.2,352.2 422.2,351.8 423.3,351.4 424.3,351.0 425.3,350.7 426.3,350.4 427.4,350.0 428.4,349.7 429.4,349.4 430.5,349.1 431.5,348.8 432.5,348.5 433.5,348.3 434.6,348.0 435.6,347.7 436.6,347.4 437.6,347.2 438.7,346.9 439.7,346.6 440.7,346.3 441.8,346.1 442.8,345.8 443.8,345.6 444.8,345.3 445.9,345.1 446.9,344.9 447.9,344.7 448.9,344.5 450.0,344.4 451.0,344.2 452.0,344.0 453.0,343.9 454.1,343.7 455.1,343.5 456.1,343.3 457.2,343.2 458.2,343.0 459.2,342.8 460.2,342.6 461.3,342.4 462.3,342.2 463.3,342.0 464.3,341.7 464.3,363.2 463.3,363.3 462.3,363.4 461.3,363.5 460.2,363.6 459.2,363.7 458.2,363.8 457.2,363.9 456.1,364.0 455.1,364.1 454.1,364.2 453.0,364.3 452.0,364.5 451.0,364.6 450.0,364.7 448.9,364.8 447.9,364.9 446.9,365.1 445.9,365.2 444.8,365.3 443.8,365.4 442.8,365.6 441.8,365.7 440.7,365.8 439.7,366.0 438.7,366.1 437.6,366.3 436.6,366.4 435.6,366.6 434.6,366.8 433.5,366.9 432.5,367.1 431.5,367.3 430.5,367.5 429.4,367.7 428.4,368.0 427.4,368.2 426.3,368.4 425.3,368.6 424.3,368.8 423.3,369.0 422.2,369.2 421.2,369.4 420.2,369.6 419.2,369.7 418.1,369.9 417.1,370.1 416.1,370.4 415.0,370.6 414.0,370.8 413.0,371.0 412.0,371.2 410.9,371.5 409.9,371.7 408.9,371.9 407.9,372.2 406.8,372.4 405.8,372.7 404.8,372.9 403.8,373.2 402.7,373.5 401.7,373.7 400.7,374.0 399.6,374.3 398.6,374.5 397.6,374.8 396.6,375.0 395.5,375.3 394.5,375.5 393.5,375.8 392.5,376.0 391.4,376.2 390.4,376.4 389.4,376.5 388.3,376.7 387.3,376.8 386.3,377.0 385.3,377.0 384.2,377.1 383.2,377.2 382.2,377.2 381.2,377.2 380.1,377.1 379.1,377.0 378.1,376.9 377.1,376.8 376.0,376.6 375.0,376.3 374.0,375.9 372.9,375.5 371.9,375.0 370.9,374.4 369.9,373.7 368.8,373.0 367.8,372.1 366.8,371.1 365.8,370.0"/>
</g>
<line x1="363.70" y1="379.11" x2="466.40" y2="379.11" stroke="#f8f8f8" stroke-width="0.7"/>
<rect class="bx" x="363.70" y="317.90" width="102.70" height="77.50"/>
<g filter="url(#soft)"><polyline class="m" points="365.8,370.0 366.8,370.8 367.8,371.6 368.8,372.2 369.9,372.9 370.9,373.4 371.9,373.9 372.9,374.3 374.0,374.5 375.0,374.8 376.0,374.9 377.1,375.1 378.1,375.1 379.1,375.2 380.1,375.2 381.2,375.2 382.2,375.1 383.2,375.0 384.2,374.9 385.3,374.8 386.3,374.6 387.3,374.4 388.3,374.2 389.4,373.9 390.4,373.7 391.4,373.4 392.5,373.1 393.5,372.8 394.5,372.5 395.5,372.3 396.6,372.0 397.6,371.7 398.6,371.4 399.6,371.1 400.7,370.8 401.7,370.5 402.7,370.2 403.8,369.9 404.8,369.6 405.8,369.3 406.8,369.0 407.9,368.6 408.9,368.3 409.9,368.0 410.9,367.7 412.0,367.4 413.0,367.1 414.0,366.9 415.0,366.6 416.1,366.3 417.1,366.1 418.1,365.8 419.2,365.6 420.2,365.3 421.2,365.1 422.2,364.9 423.3,364.7 424.3,364.4 425.3,364.2 426.3,364.0 427.4,363.7 428.4,363.5 429.4,363.3 430.5,363.1 431.5,362.9 432.5,362.6 433.5,362.4 434.6,362.2 435.6,362.0 436.6,361.8 437.6,361.6 438.7,361.4 439.7,361.3 440.7,361.1 441.8,360.9 442.8,360.7 443.8,360.6 444.8,360.4 445.9,360.2 446.9,360.1 447.9,359.9 448.9,359.7 450.0,359.6 451.0,359.4 452.0,359.2 453.0,359.1 454.1,358.9 455.1,358.8 456.1,358.6 457.2,358.5 458.2,358.4 459.2,358.2 460.2,358.1 461.3,358.0 462.3,357.9 463.3,357.8 464.3,357.6"/></g>
<text class="t" x="415.0" y="314.9">FEDFUNDS</text>
<text class="y" x="362.0" y="320.8">0</text>
<path class="k" d="M363.7 317.9h1M466.4 317.9h-1"/>
<text class="y" x="362.0" y="340.2">-0.5</text>
<path class="k" d="M363.7 337.3h1M466.4 337.3h-1"/>
<text class="y" x="362.0" y="359.6">-1</text>
<path class="k" d="M363.7 356.6h1M466.4 356.6h-1"/>
<text class="y" x="362.0" y="379.0">-1.5</text>
<path class="k" d="M363.7 376.0h1M466.4 376.0h-1"/>
<text class="y" x="362.0" y="398.3">-2</text>
<path class="k" d="M363.7 395.4h1M466.4 395.4h-1"/>
<text class="x" x="363.7" y="404.5">0</text>
<path class="k" d="M363.7 395.4v-1M363.7 317.9v1"/>
<text class="x" x="384.2" y="404.5">10</text>
<path class="k" d="M384.2 395.4v-1M384.2 317.9v1"/>
<text class="x" x="404.8" y="404.5">20</text>
<path class="k" d="M404.8 395.4v-1M404.8 317.9v1"/>
<text class="x" x="425.3" y="404.5">30</text>
<path class="k" d="M425.3 395.4v-1M425.3 317.9v1"/>
<text class="x" x="445.9" y="404.5">40</text>
<path class="k" d="M445.9 395.4v-1M445.9 317.9v1"/>
<text class="x" x="466.4" y="404.5">50</text>
<path class="k" d="M466.4 395.4v-1M466.4 317.9v1"/>
</g>
</svg>
</body></html>
